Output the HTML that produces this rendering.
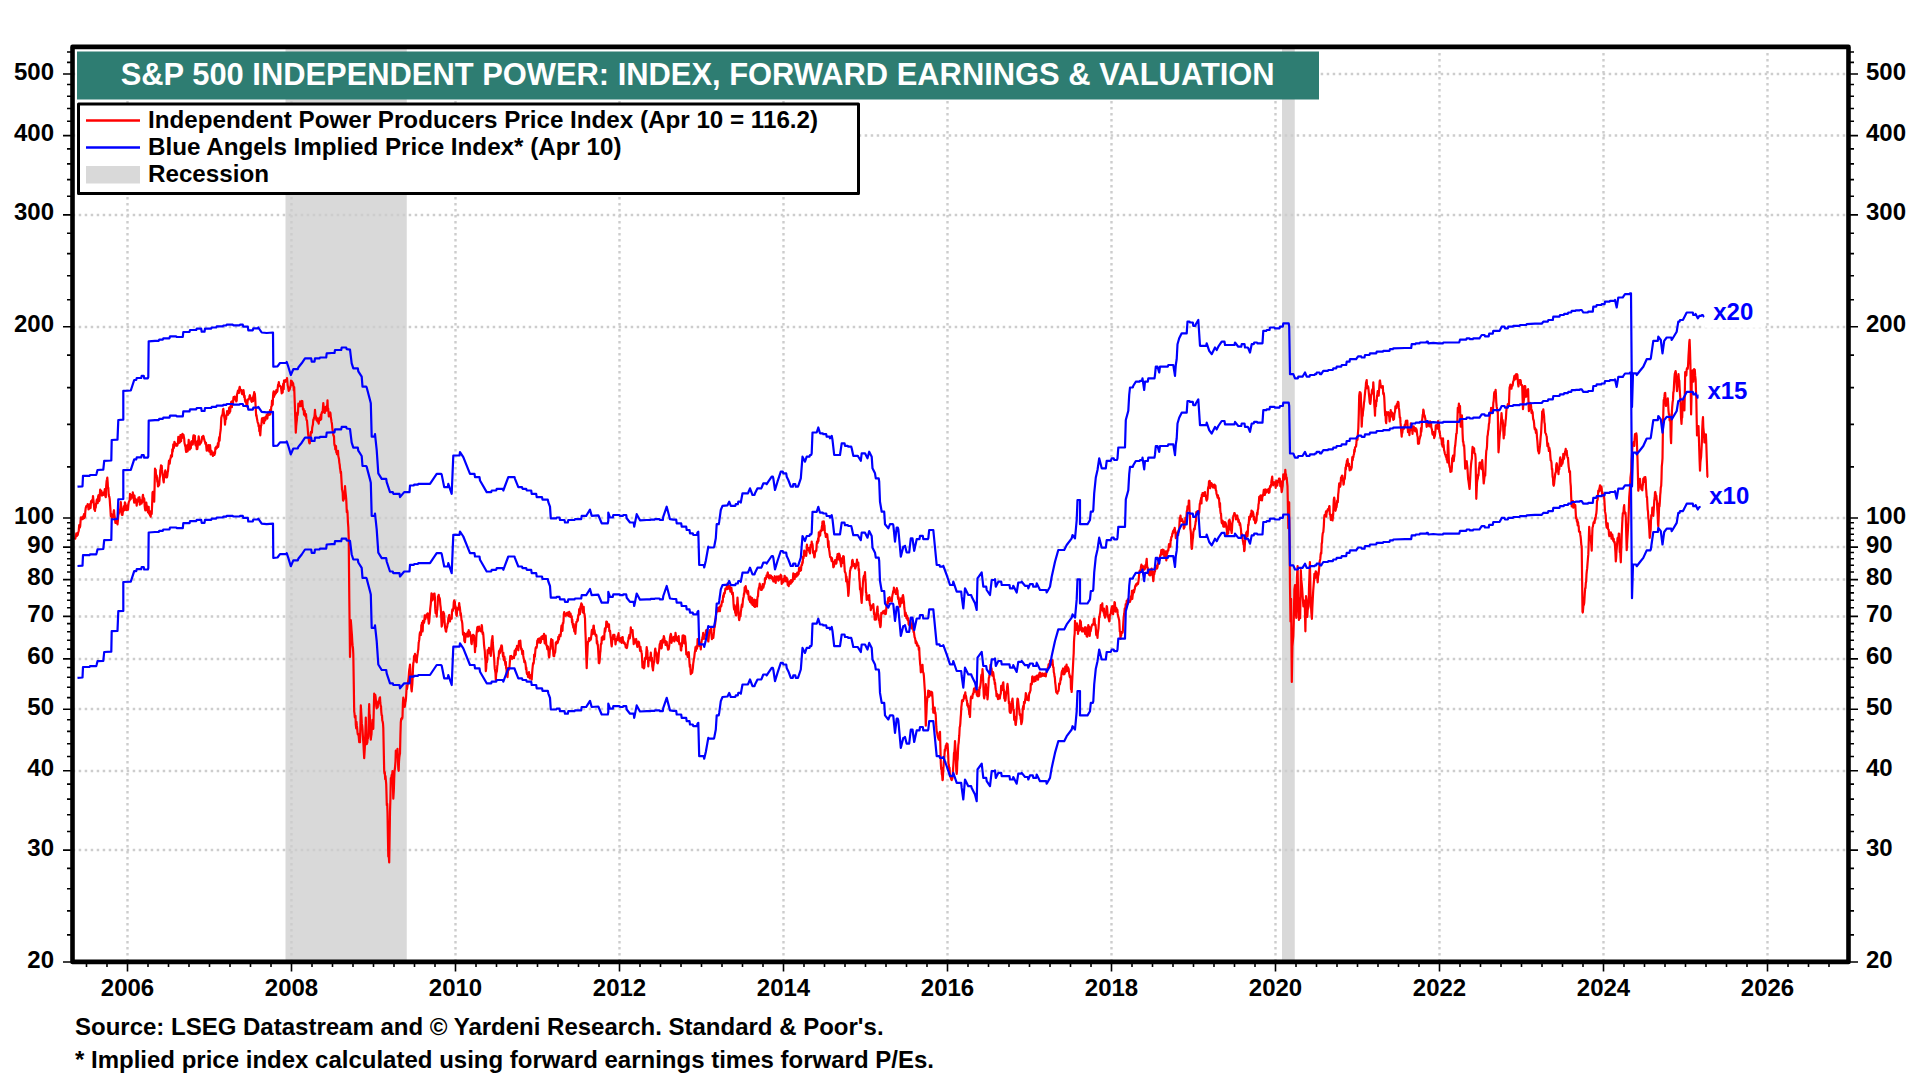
<!DOCTYPE html><html><head><meta charset="utf-8"><style>html,body{margin:0;padding:0;background:#fff;}svg{display:block;}text{font-family:"Liberation Sans",sans-serif;font-weight:bold;}</style></head><body>
<svg width="1920" height="1080" viewBox="0 0 1920 1080">
<rect x="285.5" y="46.9" width="121.25" height="915.0" fill="#d9d9d9"/>
<rect x="1282" y="46.9" width="12.75" height="915.0" fill="#d9d9d9"/>
<path d="M72.7 850.0H1846.5 M72.7 771.0H1846.5 M72.7 709.0H1846.5 M72.7 659.0H1846.5 M72.7 616.5H1846.5 M72.7 579.5H1846.5 M72.7 547.0H1846.5 M72.7 518.0H1846.5 M72.7 327.0H1846.5 M72.7 215.0H1846.5 M72.7 135.5H1846.5 M72.7 74.0H1846.5 M127.5 53V959.9 M291.5 53V959.9 M455.5 53V959.9 M619.5 53V959.9 M783.5 53V959.9 M947.5 53V959.9 M1111.5 53V959.9 M1275.5 53V959.9 M1439.5 53V959.9 M1603.5 53V959.9 M1767.5 53V959.9" stroke="#cdcdcd" stroke-width="2.4" stroke-dasharray="2.5 3.5" fill="none"/>
<path d="M75.0,537.8 75.3,538.6 75.7,536.8 76.0,535.6 76.3,533.4 76.7,533.7 77.0,536.0 77.4,534.7 77.7,535.0 78.1,532.7 78.5,531.6 78.8,530.2 79.2,525.0 79.5,527.9 79.9,527.3 80.2,526.3 80.6,520.4 81.0,517.4 81.3,517.5 81.7,517.7 82.0,519.2 82.3,518.5 82.7,519.1 83.0,516.3 83.3,517.0 83.7,517.0 84.0,514.2 84.3,518.1 84.7,516.4 85.0,516.8 85.3,511.5 85.7,508.3 86.0,507.0 86.3,506.0 86.7,506.1 87.0,506.4 87.4,505.3 87.7,504.1 88.1,504.9 88.5,509.4 88.8,506.8 89.2,508.5 89.5,508.6 89.9,504.0 90.2,505.3 90.6,508.0 91.0,501.2 91.3,502.1 91.7,502.4 92.0,500.2 92.3,501.7 92.7,500.3 93.0,496.1 93.3,499.0 93.7,502.4 94.0,505.7 94.3,509.4 94.7,509.9 95.0,511.0 95.3,506.2 95.7,507.8 96.0,504.8 96.3,503.3 96.7,500.1 97.0,499.3 97.4,499.6 97.7,503.2 98.1,496.7 98.5,495.2 98.8,498.0 99.2,501.1 99.5,499.9 99.9,493.5 100.2,489.5 100.6,493.9 101.0,492.6 101.3,490.8 101.7,494.4 102.0,495.6 102.4,493.7 102.7,492.9 103.1,492.7 103.5,494.9 103.8,493.2 104.2,492.1 104.5,492.9 104.8,489.2 105.2,494.9 105.5,496.7 105.8,497.1 106.2,485.8 106.6,481.2 107.0,479.3 107.3,477.6 107.7,482.5 108.0,488.7 108.3,487.7 108.7,494.8 109.0,496.3 109.3,496.7 109.7,499.2 110.1,505.1 110.4,509.2 110.8,516.2 111.2,513.9 111.5,514.3 111.8,518.2 112.2,518.1 112.5,516.7 112.9,517.3 113.3,517.1 113.7,511.2 114.0,510.2 114.3,514.1 114.7,516.9 115.0,519.1 115.4,523.0 115.7,519.2 116.1,523.0 116.4,519.0 116.8,518.8 117.1,522.0 117.5,524.3 117.9,520.3 118.3,515.1 118.7,513.6 119.0,512.7 119.3,512.8 119.7,510.8 120.0,510.7 120.4,507.3 120.8,502.2 121.2,506.2 121.5,508.9 121.8,514.8 122.2,514.8 122.5,514.9 122.8,512.2 123.2,510.7 123.5,510.9 123.8,506.9 124.2,505.8 124.5,510.0 124.9,502.3 125.2,503.2 125.6,507.0 126.0,509.2 126.3,510.0 126.7,509.3 127.0,509.9 127.3,508.4 127.7,505.2 128.0,509.7 128.3,505.9 128.7,502.3 129.0,501.7 129.3,500.7 129.7,500.3 130.0,493.9 130.4,495.8 130.7,499.2 131.1,495.0 131.4,495.3 131.8,497.0 132.1,496.8 132.5,497.5 132.8,492.4 133.2,494.4 133.5,496.0 133.8,499.6 134.2,502.7 134.5,495.5 134.9,501.6 135.2,498.5 135.6,502.4 136.0,499.3 136.3,502.2 136.7,505.7 137.0,502.6 137.4,501.5 137.7,501.7 138.1,499.6 138.5,497.5 138.8,499.6 139.2,498.5 139.5,497.2 139.8,504.6 140.2,499.7 140.5,503.6 140.8,503.4 141.2,502.9 141.5,503.6 141.9,502.3 142.3,502.3 142.6,497.0 143.0,494.8 143.3,498.2 143.7,497.8 144.0,498.6 144.3,499.0 144.7,506.3 145.0,508.8 145.3,510.3 145.7,505.3 146.0,505.4 146.3,502.7 146.7,505.8 147.0,509.8 147.3,506.4 147.7,511.2 148.0,512.3 148.3,510.8 148.7,506.9 149.0,513.7 149.3,513.4 149.7,512.8 150.0,515.5 150.3,515.1 150.7,516.7 151.0,511.0 151.3,513.2 151.7,514.0 152.1,505.4 152.5,492.9 152.8,491.8 153.2,496.2 153.5,496.6 153.8,497.6 154.2,501.7 154.6,486.4 155.0,468.5 155.3,471.5 155.7,469.7 156.0,475.4 156.3,476.7 156.7,475.6 157.0,477.9 157.3,481.7 157.7,482.4 158.0,486.5 158.3,486.0 158.7,485.6 159.0,485.2 159.3,484.0 159.7,477.3 160.0,477.0 160.3,470.3 160.7,468.8 161.0,465.4 161.3,470.1 161.7,465.8 162.0,469.7 162.3,472.3 162.7,475.0 163.0,476.3 163.3,480.0 163.7,482.3 164.0,478.1 164.3,476.7 164.7,476.1 165.0,472.2 165.3,470.4 165.7,472.2 166.0,477.3 166.3,473.9 166.7,475.9 167.0,477.4 167.3,475.9 167.7,472.1 168.0,471.1 168.3,467.7 168.7,463.5 169.0,460.5 169.3,460.8 169.7,463.7 170.0,460.8 170.3,458.7 170.7,457.8 171.0,455.4 171.3,457.3 171.7,455.1 172.0,456.2 172.3,449.4 172.7,451.7 173.0,449.2 173.3,444.3 173.7,448.3 174.0,447.1 174.4,441.9 174.8,442.6 175.1,444.9 175.5,443.6 175.8,445.4 176.2,445.8 176.5,445.4 176.9,444.2 177.2,445.7 177.6,444.4 177.9,443.2 178.3,436.9 178.6,440.9 179.0,442.9 179.3,439.7 179.7,437.9 180.0,442.3 180.4,435.0 180.7,436.8 181.1,441.2 181.4,434.8 181.8,435.6 182.1,438.0 182.5,433.9 182.8,435.4 183.2,437.4 183.5,434.9 183.8,436.6 184.2,438.8 184.5,443.0 184.8,444.3 185.2,446.1 185.5,446.7 185.8,450.1 186.2,452.0 186.5,450.2 186.9,446.8 187.3,445.0 187.6,451.3 188.0,449.5 188.3,447.1 188.7,439.8 189.0,444.6 189.4,446.2 189.8,449.6 190.1,448.3 190.5,447.0 190.8,448.1 191.2,441.7 191.5,445.3 191.8,444.2 192.2,440.8 192.5,443.3 192.8,444.5 193.2,437.1 193.5,435.4 193.8,436.1 194.2,435.4 194.5,435.9 194.9,435.9 195.2,443.8 195.6,445.3 196.0,442.0 196.3,441.6 196.7,449.2 197.0,448.4 197.3,449.1 197.7,446.2 198.0,440.7 198.3,440.3 198.7,436.4 199.0,438.7 199.3,441.7 199.7,444.7 200.0,443.6 200.4,442.9 200.7,443.1 201.1,442.2 201.4,441.5 201.8,439.5 202.1,436.8 202.5,437.5 202.9,437.3 203.2,435.9 203.6,436.4 203.9,438.5 204.3,439.5 204.6,441.0 205.0,441.7 205.3,443.4 205.7,444.2 206.0,442.8 206.3,446.9 206.7,450.6 207.0,450.4 207.3,449.2 207.7,450.4 208.0,447.9 208.3,445.2 208.7,448.8 209.0,448.1 209.3,451.7 209.7,449.2 210.0,445.1 210.3,447.6 210.7,454.5 211.0,453.0 211.3,450.6 211.7,451.4 212.0,453.9 212.3,454.5 212.7,453.7 213.0,456.0 213.3,454.9 213.7,452.6 214.0,452.9 214.3,455.0 214.7,454.0 215.0,453.5 215.4,448.0 215.7,447.6 216.1,448.9 216.4,446.5 216.8,448.1 217.1,447.1 217.5,446.9 217.9,443.1 218.2,446.8 218.6,444.3 218.9,439.2 219.3,437.0 219.6,440.8 220.0,434.7 220.3,432.4 220.7,429.7 221.0,424.4 221.3,417.8 221.7,416.3 222.0,415.3 222.3,415.4 222.7,413.3 223.0,409.7 223.3,408.9 223.7,412.0 224.0,414.5 224.3,417.2 224.7,419.6 225.0,424.7 225.4,420.3 225.7,418.9 226.1,419.1 226.4,415.1 226.8,415.2 227.1,411.0 227.5,411.7 227.8,414.3 228.2,414.6 228.5,412.8 228.8,411.3 229.2,407.6 229.5,412.9 229.8,411.3 230.2,411.5 230.5,406.7 230.8,406.0 231.2,401.9 231.5,405.8 231.9,407.1 232.2,401.0 232.6,402.6 232.9,404.3 233.3,399.2 233.6,397.0 234.0,397.5 234.3,398.3 234.7,396.5 235.0,398.6 235.3,399.4 235.7,400.1 236.0,400.0 236.3,401.4 236.7,400.6 237.0,394.5 237.3,393.7 237.7,391.8 238.0,390.6 238.3,392.0 238.7,392.2 239.0,392.9 239.3,388.2 239.7,386.8 240.0,388.6 240.4,389.6 240.7,389.9 241.1,390.9 241.4,390.1 241.8,393.3 242.1,394.0 242.5,393.5 242.8,393.0 243.2,394.5 243.5,390.2 243.9,393.1 244.2,397.1 244.6,395.8 244.9,399.7 245.3,401.7 245.6,399.7 246.0,402.1 246.3,403.5 246.7,406.4 247.0,406.1 247.4,403.7 247.7,400.2 248.1,399.7 248.5,398.8 248.8,399.4 249.2,397.8 249.5,396.4 249.9,395.2 250.2,397.5 250.6,398.1 251.0,398.2 251.3,401.0 251.7,401.8 252.0,401.2 252.4,400.8 252.7,397.4 253.1,401.1 253.5,395.4 253.8,395.4 254.2,392.1 254.5,397.2 254.8,393.6 255.2,398.2 255.5,404.3 255.8,409.5 256.2,416.0 256.5,415.1 256.9,418.3 257.2,419.7 257.6,421.9 257.9,423.1 258.3,423.3 258.6,426.3 259.0,425.2 259.3,431.1 259.7,429.7 260.0,433.3 260.3,435.3 260.7,429.1 261.0,425.8 261.3,425.4 261.7,421.0 262.0,418.4 262.3,419.6 262.7,420.6 263.0,421.1 263.3,417.9 263.7,422.2 264.0,423.3 264.3,420.0 264.7,419.2 265.0,417.3 265.3,420.5 265.7,416.8 266.0,418.4 266.3,416.3 266.7,414.9 267.0,417.0 267.3,418.6 267.7,415.8 268.0,412.9 268.3,414.7 268.7,413.0 269.0,412.8 269.3,415.0 269.7,414.4 270.0,410.2 270.3,414.4 270.7,410.5 271.0,410.4 271.3,406.7 271.7,406.4 272.0,400.7 272.3,405.2 272.7,404.6 273.0,397.4 273.3,392.9 273.7,391.4 274.0,396.9 274.3,395.0 274.7,395.0 275.0,394.2 275.3,394.1 275.7,391.7 276.0,393.1 276.3,390.2 276.7,392.0 277.0,391.9 277.4,391.1 277.7,388.2 278.1,384.6 278.5,384.6 278.8,382.1 279.2,384.7 279.5,386.1 279.9,385.7 280.2,385.9 280.6,386.5 281.0,387.3 281.3,389.9 281.7,393.4 282.0,392.5 282.3,391.0 282.7,392.5 283.0,385.6 283.3,383.5 283.7,389.1 284.0,380.6 284.3,380.3 284.7,381.4 285.0,381.5 285.3,381.8 285.7,380.2 286.0,380.7 286.3,380.0 286.7,381.0 287.0,378.1 287.3,381.0 287.7,385.5 288.0,386.5 288.3,388.4 288.7,390.9 289.0,388.3 289.3,389.6 289.7,389.6 290.0,388.0 290.3,387.3 290.7,385.0 291.0,380.7 291.3,381.6 291.7,382.3 292.0,381.4 292.4,382.5 292.7,385.3 293.1,383.1 293.5,386.1 293.8,390.4 294.2,387.0 294.5,395.8 294.8,403.8 295.2,416.0 295.5,423.2 295.8,432.6 296.2,426.1 296.5,423.1 296.9,419.9 297.3,412.7 297.6,415.1 298.0,412.6 298.3,403.7 298.7,406.8 299.0,405.6 299.4,406.2 299.8,405.9 300.1,401.4 300.5,402.3 300.8,406.1 301.2,403.5 301.5,401.9 301.9,400.9 302.3,401.2 302.6,405.0 303.0,409.7 303.3,408.8 303.7,409.3 304.0,414.7 304.3,411.4 304.7,410.8 305.0,414.1 305.3,416.1 305.7,414.3 306.0,414.2 306.3,418.2 306.7,420.4 307.0,420.6 307.4,425.3 307.7,428.3 308.1,433.8 308.5,436.6 308.8,439.8 309.2,442.5 309.5,443.4 309.8,443.1 310.2,437.8 310.5,437.4 310.8,432.4 311.2,431.6 311.5,431.9 311.9,432.6 312.2,427.7 312.6,425.7 312.9,424.6 313.3,419.5 313.6,420.0 314.0,417.7 314.3,418.2 314.7,414.1 315.0,409.8 315.3,414.1 315.7,416.6 316.0,416.3 316.3,419.9 316.7,419.1 317.0,418.6 317.3,421.4 317.7,418.4 318.0,419.9 318.3,422.4 318.7,423.7 319.0,421.1 319.4,420.5 319.8,417.4 320.1,417.6 320.5,419.9 320.8,414.8 321.2,419.2 321.5,413.5 321.9,412.3 322.3,411.6 322.6,412.6 323.0,407.4 323.3,403.1 323.7,407.3 324.0,409.0 324.4,408.8 324.8,412.9 325.1,408.7 325.5,407.0 325.8,407.6 326.2,407.4 326.5,410.6 326.8,405.8 327.2,406.4 327.5,400.3 327.8,408.0 328.2,408.5 328.5,412.0 328.8,416.3 329.2,413.5 329.5,412.8 329.8,412.6 330.2,412.4 330.5,413.5 330.8,417.3 331.2,419.4 331.5,421.7 331.9,423.5 332.3,428.1 332.6,430.3 333.0,431.3 333.3,434.9 333.7,436.2 334.0,436.2 334.3,443.7 334.7,445.8 335.0,445.2 335.3,449.4 335.7,449.7 336.0,446.2 336.3,452.5 336.7,452.4 337.0,454.2 337.3,453.8 337.7,453.5 338.0,450.8 338.3,456.0 338.7,457.7 339.0,459.2 339.3,462.6 339.7,464.7 340.0,468.3 340.3,469.8 340.7,473.2 341.0,471.9 341.3,477.4 341.7,483.9 342.0,489.8 342.3,490.3 342.7,493.2 343.0,500.1 343.3,500.5 343.7,499.1 344.0,499.0 344.3,493.6 344.7,492.6 345.0,486.2 345.4,491.1 345.8,494.9 346.2,498.9 346.5,504.9 346.8,512.2 347.2,510.4 347.5,512.3 347.9,521.8 348.3,526.8 348.7,537.0 349.0,568.9 349.3,598.2 349.7,630.3 350.0,657.0 350.4,642.3 350.8,620.2 351.2,625.0 351.5,629.8 351.9,634.6 352.3,641.8 352.6,645.4 353.0,648.4 353.3,654.3 353.8,685.5 354.2,711.3 354.5,713.3 354.8,717.2 355.2,717.7 355.5,715.8 355.8,724.7 356.2,728.5 356.5,721.9 356.8,725.2 357.2,728.6 357.5,732.3 357.8,734.3 358.2,734.2 358.5,733.8 358.8,737.4 359.2,742.1 359.6,740.8 360.0,742.2 360.4,726.5 360.8,705.4 361.2,712.1 361.5,716.9 361.8,723.4 362.2,725.9 362.5,729.2 362.8,734.9 363.2,741.0 363.5,745.0 363.8,751.1 364.2,758.1 364.5,753.1 364.8,748.2 365.2,736.6 365.5,729.1 365.8,717.5 366.2,736.3 366.7,744.2 367.0,743.0 367.3,742.7 367.7,737.4 368.0,738.4 368.3,736.6 368.8,716.8 369.2,704.2 369.5,714.0 369.8,715.1 370.2,725.6 370.5,732.3 370.8,739.6 371.2,736.1 371.5,734.4 371.8,728.0 372.2,725.8 372.5,719.9 372.9,726.6 373.3,728.8 373.8,709.3 374.2,693.6 374.5,694.6 374.9,695.2 375.2,694.8 375.6,697.0 376.0,701.4 376.3,706.2 376.7,708.3 377.0,707.5 377.3,705.5 377.7,707.3 378.0,703.6 378.3,701.4 378.7,703.2 379.0,701.5 379.3,699.6 379.7,697.8 380.0,697.3 380.3,702.7 380.7,706.1 381.0,706.1 381.3,711.8 381.7,715.4 382.0,715.3 382.3,720.7 382.7,721.7 383.0,723.5 383.3,728.1 383.8,752.6 384.2,771.3 384.5,773.5 384.8,772.0 385.2,779.2 385.5,776.2 385.8,779.5 386.2,783.9 386.5,793.6 386.8,805.1 387.2,803.7 387.5,812.8 387.9,836.1 388.3,856.6 388.8,856.0 389.2,862.5 389.6,838.3 390.0,812.0 390.4,799.1 390.8,778.2 391.2,780.6 391.5,776.2 391.8,774.7 392.2,775.1 392.5,771.2 392.9,784.0 393.3,798.7 393.8,791.0 394.2,778.6 394.5,771.2 394.8,769.5 395.2,765.3 395.5,761.3 395.8,750.7 396.2,752.5 396.5,755.6 396.8,756.0 397.2,756.3 397.5,748.9 397.9,759.6 398.3,769.0 398.7,770.8 399.0,761.6 399.3,757.6 399.7,754.8 400.0,753.6 400.4,735.5 400.8,722.4 401.2,718.8 401.5,719.6 401.8,717.9 402.2,718.6 402.5,716.8 402.9,703.5 403.3,697.7 403.7,699.7 404.0,699.8 404.3,702.8 404.7,706.9 405.0,705.3 405.3,702.6 405.7,700.9 406.0,698.2 406.3,693.1 406.7,685.3 407.0,689.1 407.3,687.1 407.7,684.4 408.0,681.5 408.3,680.4 408.7,676.5 409.0,672.1 409.3,669.5 409.7,667.1 410.0,664.6 410.3,668.7 410.7,677.6 411.0,679.9 411.3,688.5 411.7,691.3 412.0,687.4 412.3,684.4 412.7,676.8 413.0,668.3 413.3,663.1 413.7,661.9 414.0,656.3 414.3,655.7 414.7,656.1 415.0,653.8 415.3,655.7 415.7,658.5 416.0,660.2 416.3,661.8 416.7,662.3 417.0,658.2 417.3,656.0 417.7,653.4 418.0,651.1 418.3,649.3 418.7,642.6 419.0,641.2 419.3,639.2 419.7,634.2 420.0,632.4 420.3,633.2 420.7,631.3 421.0,634.9 421.3,625.2 421.7,626.4 422.0,622.7 422.3,626.9 422.7,631.4 423.0,620.9 423.3,622.4 423.7,623.3 424.0,621.3 424.3,621.9 424.7,615.4 425.0,619.4 425.3,619.2 425.7,617.9 426.0,615.5 426.3,616.8 426.7,614.3 427.0,616.4 427.4,616.3 427.7,613.3 428.1,617.8 428.5,620.7 428.8,623.7 429.2,622.0 429.5,617.8 429.8,614.5 430.2,609.1 430.5,606.3 430.8,603.8 431.2,597.9 431.5,593.4 431.8,597.7 432.2,600.5 432.5,599.9 432.8,599.3 433.2,595.7 433.5,594.0 433.8,596.7 434.2,593.5 434.5,593.6 434.9,597.4 435.2,608.4 435.6,613.1 436.0,611.0 436.3,612.1 436.7,616.7 437.0,610.5 437.3,610.0 437.7,603.8 438.0,596.5 438.3,596.3 438.7,594.8 439.0,596.8 439.3,597.7 439.7,598.2 440.0,600.5 440.3,604.6 440.7,607.5 441.0,611.6 441.3,619.0 441.7,626.6 442.0,625.4 442.3,623.0 442.7,621.1 443.0,617.3 443.3,611.8 443.7,613.9 444.0,613.2 444.4,618.9 444.8,624.1 445.1,627.7 445.5,629.2 445.8,631.3 446.2,631.7 446.5,628.6 446.9,627.8 447.3,626.0 447.6,623.3 448.0,623.5 448.3,618.2 448.7,617.2 449.0,615.6 449.3,614.9 449.7,619.6 450.0,621.4 450.3,618.1 450.7,617.9 451.0,618.9 451.3,618.2 451.7,618.7 452.0,611.6 452.4,609.3 452.7,609.6 453.1,610.7 453.5,606.8 453.8,602.2 454.2,600.4 454.5,601.2 454.9,602.0 455.2,608.4 455.6,606.8 456.0,608.7 456.3,614.9 456.7,615.9 457.0,612.5 457.4,608.2 457.7,608.1 458.1,609.8 458.5,607.2 458.8,606.8 459.2,603.2 459.5,606.0 459.8,607.1 460.2,610.7 460.5,615.5 460.8,613.0 461.2,616.5 461.5,620.0 461.9,621.0 462.3,623.4 462.6,628.3 463.0,634.2 463.3,634.8 463.7,635.5 464.0,632.9 464.3,640.9 464.7,641.0 465.0,642.1 465.3,637.7 465.7,637.4 466.0,633.9 466.3,634.2 466.7,634.1 467.0,633.8 467.3,634.4 467.7,632.2 468.0,636.6 468.3,633.6 468.7,630.1 469.0,632.6 469.3,632.3 469.7,631.8 470.0,633.2 470.3,636.3 470.7,635.1 471.0,637.8 471.3,643.0 471.7,644.1 472.0,640.5 472.3,638.8 472.7,636.6 473.0,634.9 473.3,634.9 473.7,637.3 474.0,635.5 474.3,642.5 474.7,645.4 475.0,652.2 475.3,647.2 475.7,644.9 476.0,646.4 476.3,637.7 476.7,632.3 477.0,630.5 477.3,627.3 477.7,627.0 478.0,631.5 478.3,630.6 478.7,627.2 479.0,626.6 479.3,630.6 479.7,628.7 480.0,628.6 480.3,628.9 480.7,630.4 481.0,631.3 481.3,628.8 481.7,625.1 482.0,626.4 482.3,631.7 482.7,634.0 483.0,632.3 483.3,634.7 483.7,639.7 484.0,644.3 484.4,648.1 484.8,651.0 485.1,657.2 485.5,660.6 485.8,671.2 486.2,668.3 486.5,661.2 486.9,662.3 487.3,659.4 487.6,650.1 488.0,652.9 488.3,649.5 488.7,653.1 489.0,647.8 489.4,650.4 489.8,651.7 490.1,652.3 490.5,653.1 490.8,655.9 491.2,647.9 491.5,643.8 491.8,640.0 492.2,638.6 492.5,636.0 492.8,642.7 493.2,647.6 493.5,651.6 493.8,654.3 494.2,658.5 494.5,664.9 494.8,668.9 495.2,671.0 495.5,673.0 495.8,680.0 496.2,673.7 496.5,672.3 496.9,671.1 497.3,665.7 497.6,664.4 498.0,657.8 498.3,658.3 498.7,656.5 499.0,651.2 499.3,653.5 499.7,650.2 500.0,653.0 500.3,648.9 500.7,647.9 501.0,647.7 501.3,645.6 501.7,645.4 502.0,646.6 502.3,651.4 502.7,653.4 503.0,656.3 503.3,652.5 503.7,659.6 504.0,660.0 504.4,656.6 504.8,660.1 505.1,662.5 505.5,665.2 505.8,661.9 506.2,668.6 506.5,668.7 506.8,675.8 507.2,674.3 507.5,677.1 507.9,672.8 508.2,668.2 508.6,670.1 508.9,669.0 509.3,668.6 509.6,665.5 510.0,659.9 510.3,656.0 510.7,656.6 511.0,656.6 511.3,656.0 511.7,658.7 512.0,658.8 512.3,657.4 512.7,657.6 513.0,656.8 513.3,657.1 513.7,657.8 514.0,658.1 514.3,654.1 514.7,650.5 515.0,655.2 515.3,653.6 515.7,654.8 516.0,648.7 516.3,649.0 516.7,649.5 517.0,645.8 517.3,646.0 517.7,648.3 518.0,649.3 518.3,650.3 518.7,644.7 519.0,641.0 519.3,643.4 519.7,644.6 520.0,642.8 520.3,640.7 520.7,645.5 521.0,648.2 521.3,649.6 521.7,648.8 522.0,651.2 522.3,654.1 522.7,653.1 523.0,650.9 523.3,655.9 523.7,658.6 524.0,659.2 524.3,662.1 524.7,660.5 525.0,661.8 525.3,662.5 525.7,665.4 526.0,669.4 526.3,667.5 526.7,672.6 527.0,673.9 527.3,673.5 527.7,673.6 528.0,677.0 528.3,674.6 528.7,674.0 529.0,672.1 529.3,675.1 529.7,678.4 530.0,678.1 530.3,678.0 530.7,677.0 531.0,677.8 531.3,674.8 531.7,679.6 532.0,674.8 532.4,669.6 532.7,666.5 533.1,663.2 533.5,663.8 533.8,662.4 534.2,654.6 534.5,656.7 534.9,656.6 535.2,652.5 535.6,648.2 535.9,647.6 536.2,646.8 536.6,647.8 536.9,645.9 537.3,640.7 537.6,643.0 538.0,639.1 538.3,642.3 538.7,639.0 539.0,638.9 539.3,638.3 539.7,638.6 540.0,642.7 540.3,642.9 540.7,642.3 541.0,641.4 541.3,636.8 541.7,637.3 542.0,637.3 542.3,636.2 542.7,638.9 543.0,637.0 543.3,636.2 543.7,635.9 544.0,633.9 544.3,639.4 544.7,643.3 545.0,642.4 545.3,640.0 545.7,635.7 546.0,640.9 546.3,645.3 546.7,645.2 547.0,647.0 547.3,649.1 547.7,649.5 548.0,646.5 548.3,649.1 548.8,655.9 549.2,657.5 549.5,655.2 549.8,650.3 550.2,649.4 550.5,648.7 550.8,642.9 551.2,639.1 551.5,644.7 551.8,644.2 552.2,646.0 552.5,640.0 552.8,646.1 553.2,652.2 553.5,655.9 553.8,654.1 554.2,656.2 554.5,653.1 554.8,653.2 555.2,652.1 555.5,648.3 555.8,642.5 556.2,644.5 556.5,641.8 556.9,642.5 557.3,641.2 557.6,643.0 558.0,641.7 558.3,637.0 558.7,636.8 559.0,639.4 559.4,634.8 559.8,634.9 560.1,636.1 560.5,636.2 560.8,634.1 561.2,628.3 561.5,625.5 561.8,627.0 562.2,626.9 562.5,630.8 562.8,623.1 563.2,623.6 563.5,621.6 563.8,614.2 564.2,612.2 564.5,614.4 564.9,613.7 565.2,614.2 565.6,615.8 566.0,613.5 566.3,615.5 566.7,613.8 567.0,612.9 567.4,614.7 567.7,612.5 568.1,613.4 568.5,616.2 568.8,613.5 569.2,611.8 569.5,614.3 569.9,613.4 570.2,616.8 570.6,613.5 571.0,617.1 571.3,616.5 571.7,616.3 572.0,622.5 572.3,619.6 572.7,624.9 573.0,625.0 573.3,627.5 573.7,624.0 574.0,628.4 574.3,631.4 574.7,629.8 575.0,630.1 575.4,633.8 575.7,629.0 576.1,624.9 576.4,621.9 576.8,622.1 577.1,620.9 577.5,619.0 577.8,620.7 578.2,615.7 578.5,614.6 578.8,615.3 579.2,609.1 579.5,611.7 579.9,614.2 580.2,608.0 580.6,606.2 581.0,605.5 581.3,603.4 581.7,607.5 582.0,604.3 582.3,608.6 582.7,612.4 583.0,607.2 583.3,608.4 583.7,606.9 584.0,613.4 584.3,613.4 584.7,615.5 585.0,618.1 585.3,629.4 585.7,638.0 586.0,648.2 586.3,657.1 586.7,668.2 587.0,659.7 587.3,655.5 587.7,645.8 588.0,641.7 588.3,641.6 588.7,640.7 589.0,638.0 589.3,641.1 589.7,640.1 590.0,638.9 590.3,638.2 590.7,639.8 591.0,638.4 591.3,635.5 591.7,631.3 592.0,629.8 592.4,634.3 592.7,633.1 593.1,629.8 593.5,625.7 593.8,625.6 594.2,633.7 594.5,630.1 594.8,632.1 595.2,634.3 595.5,635.1 595.8,636.0 596.2,634.7 596.5,635.9 596.8,643.2 597.2,641.2 597.5,644.9 597.8,644.5 598.2,650.3 598.5,656.3 598.8,662.9 599.2,663.3 599.5,662.1 599.8,658.8 600.2,652.8 600.5,651.0 600.8,644.9 601.2,643.3 601.5,643.8 601.8,637.4 602.2,640.2 602.5,638.6 602.8,636.4 603.2,637.2 603.5,639.5 603.8,637.1 604.2,639.2 604.5,632.6 604.9,628.4 605.2,631.7 605.6,628.8 606.0,627.4 606.3,621.5 606.7,621.5 607.0,622.1 607.3,623.8 607.7,623.7 608.0,626.9 608.3,624.6 608.7,624.4 609.0,624.3 609.3,631.1 609.7,630.4 610.0,630.6 610.3,633.3 610.7,637.3 611.0,638.8 611.3,643.5 611.7,646.3 612.0,643.7 612.3,640.2 612.7,639.4 613.0,636.3 613.3,634.8 613.7,636.9 614.0,638.8 614.4,634.8 614.8,638.0 615.1,639.4 615.5,644.3 615.8,641.8 616.2,640.6 616.5,640.1 616.8,638.7 617.2,640.1 617.5,636.3 617.9,639.1 618.2,635.1 618.6,633.2 618.9,639.5 619.3,640.3 619.6,641.1 620.0,640.8 620.3,641.5 620.7,638.1 621.0,641.8 621.3,640.0 621.7,642.8 622.0,641.9 622.3,637.1 622.7,637.1 623.0,642.5 623.3,641.7 623.7,641.5 624.0,643.2 624.3,642.8 624.7,642.8 625.0,644.7 625.3,644.7 625.7,647.4 626.0,644.8 626.3,647.6 626.7,648.1 627.0,647.7 627.3,645.8 627.7,642.8 628.0,641.4 628.3,640.0 628.7,637.2 629.0,636.9 629.4,634.8 629.8,638.3 630.1,636.3 630.5,632.7 630.8,627.4 631.2,631.0 631.5,632.1 631.9,631.6 632.3,632.0 632.6,630.2 633.0,636.5 633.3,637.9 633.7,644.1 634.0,640.7 634.4,639.4 634.8,642.6 635.1,641.0 635.5,640.6 635.8,639.5 636.2,639.0 636.5,643.7 636.9,644.6 637.3,646.8 637.6,643.3 638.0,643.3 638.3,641.5 638.7,645.5 639.0,642.2 639.4,645.8 639.8,648.7 640.1,650.9 640.5,646.9 640.8,650.5 641.2,650.5 641.5,652.4 641.8,653.7 642.2,661.6 642.5,667.4 642.9,663.5 643.2,661.7 643.6,662.0 643.9,668.4 644.3,667.3 644.6,663.5 645.0,659.5 645.3,657.5 645.7,659.0 646.0,659.0 646.3,652.4 646.7,647.2 647.0,650.1 647.3,650.3 647.7,658.7 648.0,659.4 648.3,666.5 648.7,660.4 649.0,658.2 649.4,660.0 649.8,657.3 650.1,658.9 650.5,656.8 650.8,652.5 651.2,657.7 651.5,661.3 651.9,657.9 652.3,666.4 652.6,667.8 653.0,670.3 653.3,666.7 653.7,663.9 654.0,661.6 654.3,661.8 654.7,654.1 655.0,650.5 655.3,648.5 655.7,652.2 656.0,655.2 656.3,652.3 656.7,654.1 657.0,658.2 657.3,662.9 657.7,663.4 658.0,662.3 658.3,660.8 658.7,655.7 659.0,651.5 659.3,648.8 659.7,644.4 660.0,643.6 660.3,643.2 660.7,641.0 661.0,646.8 661.3,648.4 661.7,648.0 662.0,644.3 662.4,639.8 662.7,639.3 663.1,642.6 663.5,639.2 663.8,636.1 664.2,637.6 664.5,639.3 664.9,641.2 665.2,642.4 665.6,645.0 666.0,641.4 666.3,644.6 666.7,641.9 667.0,645.3 667.3,646.1 667.7,647.1 668.0,649.7 668.3,649.1 668.7,649.2 669.0,647.4 669.4,643.9 669.8,639.9 670.1,636.9 670.5,635.1 670.8,633.9 671.2,635.3 671.5,642.8 671.9,640.8 672.3,640.8 672.6,637.7 673.0,637.4 673.3,638.6 673.7,639.5 674.0,636.8 674.4,641.3 674.8,637.8 675.1,639.9 675.5,632.8 675.8,635.1 676.2,637.5 676.5,638.5 676.9,640.3 677.3,640.7 677.6,641.0 678.0,637.1 678.3,638.7 678.7,636.2 679.0,642.3 679.4,644.2 679.8,644.2 680.1,643.3 680.5,644.0 680.8,650.0 681.2,650.5 681.5,645.9 681.9,646.5 682.3,639.6 682.6,635.7 683.0,636.7 683.3,635.4 683.7,635.6 684.0,637.0 684.3,643.4 684.7,637.2 685.0,636.2 685.3,640.1 685.7,643.0 686.0,648.4 686.3,654.5 686.7,652.2 687.0,654.3 687.4,654.6 687.7,656.8 688.1,654.0 688.5,653.1 688.8,652.2 689.2,658.8 689.5,663.3 689.8,666.8 690.2,664.8 690.5,670.7 690.8,674.1 691.2,671.3 691.5,670.6 691.8,673.0 692.2,672.6 692.5,670.4 692.8,668.6 693.2,663.8 693.5,661.8 693.8,659.4 694.2,657.9 694.5,654.9 694.8,652.4 695.2,650.3 695.5,647.1 695.8,651.0 696.2,648.1 696.5,646.2 696.9,648.8 697.3,647.0 697.6,639.1 698.0,640.5 698.3,640.5 698.7,644.7 699.0,645.8 699.4,645.9 699.8,642.6 700.1,643.1 700.5,646.7 700.8,649.4 701.2,644.1 701.5,642.2 701.8,639.9 702.2,638.6 702.5,637.3 702.9,635.8 703.2,632.8 703.6,637.0 703.9,638.9 704.3,635.5 704.6,636.5 705.0,635.2 705.3,634.8 705.7,633.8 706.0,630.3 706.3,631.6 706.7,632.5 707.0,629.9 707.3,635.9 707.7,639.0 708.0,640.1 708.3,641.5 708.7,638.2 709.0,634.2 709.4,631.8 709.8,630.0 710.1,630.9 710.5,630.5 710.8,631.4 711.2,627.0 711.5,635.6 711.9,639.2 712.3,636.0 712.6,637.0 713.0,637.5 713.3,637.9 713.7,634.3 714.0,631.7 714.3,627.8 714.7,627.1 715.0,624.9 715.3,622.7 715.7,617.3 716.0,615.5 716.3,612.9 716.7,611.3 717.0,607.9 717.4,609.8 717.7,611.5 718.1,611.2 718.5,608.7 718.8,607.5 719.2,607.4 719.5,609.1 719.9,611.2 720.2,607.9 720.6,605.4 721.0,606.4 721.3,606.1 721.7,603.2 722.0,601.4 722.3,601.3 722.7,602.1 723.0,597.4 723.3,595.3 723.7,597.0 724.0,593.0 724.3,593.6 724.7,593.5 725.0,591.6 725.4,588.7 725.7,589.3 726.1,588.5 726.4,589.2 726.8,586.4 727.1,589.2 727.5,583.6 727.9,585.2 728.2,586.2 728.6,588.6 728.9,586.0 729.3,587.6 729.6,585.8 730.0,588.0 730.4,591.7 730.7,588.7 731.1,590.0 731.4,587.9 731.8,591.8 732.1,594.2 732.5,592.9 732.8,592.6 733.2,597.8 733.5,603.3 733.8,607.0 734.2,609.6 734.5,605.0 734.8,606.8 735.2,612.9 735.5,610.1 735.8,615.2 736.2,615.4 736.5,611.3 736.8,609.0 737.2,603.2 737.5,597.5 737.8,602.9 738.2,607.2 738.5,611.6 738.8,617.4 739.2,620.2 739.5,618.5 739.8,617.1 740.2,614.4 740.5,616.2 740.8,612.4 741.2,609.6 741.5,607.0 741.9,604.3 742.3,606.8 742.6,604.0 743.0,599.5 743.3,598.1 743.7,596.4 744.0,593.3 744.3,593.9 744.7,587.5 745.0,587.1 745.4,588.1 745.7,586.1 746.1,588.8 746.4,590.0 746.8,592.4 747.1,591.7 747.5,593.8 747.9,590.8 748.2,591.6 748.6,596.7 748.9,599.6 749.3,598.9 749.6,598.0 750.0,602.0 750.4,596.6 750.7,597.8 751.1,601.8 751.4,603.5 751.8,600.7 752.1,598.1 752.5,604.9 752.9,604.4 753.2,602.1 753.6,603.6 753.9,606.1 754.3,599.5 754.6,605.4 755.0,606.9 755.3,600.7 755.7,604.7 756.0,600.2 756.3,604.8 756.7,604.6 757.0,606.4 757.3,599.2 757.7,596.5 758.0,596.4 758.3,591.1 758.7,588.6 759.0,587.6 759.3,587.0 759.7,583.7 760.0,585.2 760.3,586.6 760.7,586.3 761.0,589.9 761.3,587.0 761.7,589.8 762.0,586.9 762.3,589.0 762.7,584.0 763.0,587.1 763.3,587.6 763.7,586.1 764.0,584.6 764.4,584.1 764.8,582.5 765.1,578.0 765.5,579.4 765.8,579.3 766.2,578.0 766.5,575.3 766.8,575.3 767.2,576.3 767.5,573.2 767.8,572.5 768.2,576.5 768.5,577.2 768.9,577.5 769.2,578.3 769.6,575.5 769.9,575.2 770.3,578.0 770.6,575.5 771.0,575.7 771.3,577.1 771.7,577.7 772.0,576.8 772.3,579.4 772.7,578.0 773.0,579.7 773.3,581.3 773.7,581.2 774.0,581.5 774.3,577.7 774.7,576.2 775.0,577.4 775.3,579.9 775.7,582.9 776.0,577.8 776.3,579.3 776.7,577.1 777.0,576.4 777.3,577.0 777.7,579.3 778.0,578.8 778.3,580.7 778.7,576.4 779.0,578.9 779.3,579.7 779.7,577.9 780.0,578.1 780.3,576.3 780.7,574.7 781.0,575.8 781.3,575.9 781.7,584.0 782.0,579.6 782.3,582.9 782.7,581.2 783.0,581.0 783.3,582.1 783.7,578.7 784.0,581.0 784.3,580.4 784.7,575.8 785.0,578.7 785.3,579.3 785.7,579.1 786.0,581.3 786.3,577.5 786.7,578.0 787.0,580.8 787.3,579.4 787.7,584.9 788.0,582.2 788.3,583.0 788.7,586.2 789.0,583.6 789.3,584.6 789.7,581.3 790.0,583.7 790.3,581.6 790.7,583.7 791.0,580.0 791.3,582.8 791.7,581.8 792.0,581.9 792.3,581.3 792.7,581.2 793.0,577.7 793.3,573.4 793.7,577.4 794.0,576.5 794.3,577.0 794.7,578.9 795.0,574.0 795.3,574.8 795.7,575.2 796.0,574.1 796.3,576.6 796.7,576.2 797.0,574.0 797.3,572.5 797.7,575.4 798.0,572.8 798.3,574.2 798.7,574.0 799.0,568.3 799.3,567.6 799.7,569.4 800.0,570.3 800.3,570.8 800.7,570.4 801.0,570.1 801.3,566.3 801.7,564.6 802.0,565.1 802.4,561.8 802.7,562.9 803.1,556.6 803.5,558.3 803.8,556.2 804.2,550.6 804.5,555.3 804.9,555.3 805.2,554.5 805.5,551.6 805.9,551.7 806.2,555.9 806.6,552.1 806.9,544.7 807.3,547.7 807.6,547.8 807.9,550.0 808.3,550.0 808.6,548.6 809.0,548.1 809.3,551.9 809.7,547.6 810.0,553.4 810.3,548.6 810.7,544.9 811.0,546.9 811.3,546.2 811.7,541.6 812.0,546.4 812.3,543.6 812.7,546.0 813.0,552.6 813.3,553.2 813.7,551.1 814.0,554.8 814.3,557.4 814.7,556.7 815.0,552.9 815.3,551.9 815.7,551.5 816.0,550.4 816.3,550.7 816.7,544.4 817.0,541.7 817.4,541.1 817.7,543.0 818.1,538.3 818.5,541.0 818.8,532.4 819.2,536.6 819.5,534.2 819.8,535.1 820.2,535.4 820.5,530.7 820.8,530.8 821.2,530.9 821.5,531.0 821.8,527.1 822.2,524.9 822.5,521.5 822.8,529.9 823.2,526.6 823.5,525.0 823.8,521.3 824.2,525.0 824.5,525.5 824.8,531.4 825.2,533.5 825.5,533.9 825.8,537.0 826.2,533.9 826.5,535.0 826.8,535.3 827.2,534.3 827.5,537.2 827.8,540.6 828.2,547.2 828.5,541.0 828.8,546.6 829.2,550.0 829.5,552.1 829.9,555.4 830.2,557.1 830.6,557.5 831.0,557.2 831.3,559.8 831.7,561.1 832.0,558.0 832.3,561.5 832.7,561.3 833.0,562.8 833.3,567.3 833.7,566.9 834.0,566.1 834.4,562.9 834.8,562.5 835.1,560.0 835.5,561.2 835.8,561.5 836.2,563.7 836.5,562.9 836.9,557.6 837.3,556.0 837.6,554.0 838.0,555.5 838.3,559.3 838.7,559.3 839.0,553.6 839.4,554.5 839.8,555.5 840.1,560.6 840.5,562.0 840.8,563.9 841.2,566.5 841.5,561.0 841.8,558.3 842.2,563.0 842.5,560.4 842.8,558.7 843.2,556.2 843.5,557.3 843.8,556.5 844.2,562.7 844.5,566.6 844.8,571.6 845.2,572.4 845.5,572.9 845.8,574.5 846.2,581.4 846.5,576.7 846.8,580.1 847.2,581.9 847.5,584.6 847.9,588.7 848.3,595.9 848.7,592.8 849.0,586.8 849.3,581.1 849.7,577.0 850.0,571.0 850.4,569.9 850.7,567.9 851.1,567.0 851.4,567.7 851.8,566.5 852.1,560.9 852.5,559.8 852.8,561.2 853.2,563.7 853.5,564.1 853.8,565.9 854.2,565.9 854.5,564.2 854.9,566.9 855.2,568.5 855.6,567.4 856.0,566.2 856.3,565.1 856.7,562.8 857.0,559.5 857.3,564.0 857.7,564.8 858.0,563.6 858.3,562.5 858.7,570.6 859.0,569.0 859.3,578.7 859.7,582.0 860.0,589.4 860.3,587.9 860.7,591.5 861.0,594.3 861.3,599.3 861.7,602.9 862.0,596.5 862.3,595.1 862.7,587.2 863.0,581.8 863.3,579.0 863.7,576.7 864.0,575.7 864.3,576.7 864.7,575.0 865.0,572.0 865.3,578.4 865.7,583.4 866.0,592.4 866.3,592.5 866.7,600.0 867.0,596.7 867.4,596.2 867.7,595.8 868.1,596.6 868.5,597.9 868.8,600.0 869.2,595.2 869.5,600.7 869.8,603.6 870.2,605.9 870.5,605.0 870.8,610.1 871.2,608.0 871.5,607.8 871.9,605.9 872.3,606.8 872.6,607.7 873.0,607.6 873.3,604.1 873.7,609.1 874.0,614.1 874.3,612.7 874.7,619.7 875.0,618.1 875.4,619.1 875.7,618.6 876.1,619.5 876.4,616.2 876.8,612.5 877.1,609.5 877.5,606.6 877.9,612.9 878.2,614.4 878.6,615.4 878.9,620.1 879.3,620.4 879.6,622.8 880.0,625.1 880.3,627.1 880.7,625.6 881.0,619.8 881.3,612.9 881.7,612.9 882.0,612.9 882.4,613.1 882.7,613.4 883.1,611.3 883.5,612.9 883.8,613.0 884.2,611.3 884.5,610.6 884.8,610.8 885.2,614.1 885.5,612.0 885.8,613.9 886.2,610.3 886.5,605.9 886.8,607.0 887.2,604.3 887.5,601.7 887.9,603.1 888.2,598.1 888.6,599.2 888.9,600.0 889.3,601.2 889.6,597.1 890.0,599.3 890.4,598.7 890.7,600.7 891.1,600.6 891.4,598.9 891.8,601.5 892.1,597.4 892.5,594.8 892.9,593.4 893.2,591.2 893.6,592.0 893.9,587.7 894.3,589.7 894.6,591.0 895.0,592.3 895.4,590.5 895.7,594.0 896.1,591.1 896.4,591.5 896.8,588.1 897.1,589.7 897.5,590.5 897.9,597.4 898.2,599.1 898.6,597.3 898.9,601.5 899.3,604.1 899.6,604.7 900.0,606.7 900.3,604.7 900.7,602.6 901.0,598.4 901.3,599.6 901.7,602.2 902.0,602.8 902.3,598.7 902.7,595.7 903.0,595.1 903.3,596.6 903.7,600.3 904.0,602.2 904.3,607.5 904.7,610.7 905.0,616.0 905.4,615.0 905.7,612.6 906.1,615.4 906.4,618.2 906.8,615.4 907.1,617.0 907.5,619.9 907.9,618.8 908.2,618.3 908.6,624.3 908.9,624.3 909.3,625.2 909.6,621.7 910.0,626.5 910.4,621.4 910.7,622.3 911.1,625.7 911.4,628.4 911.8,624.8 912.1,624.5 912.5,626.5 912.9,623.9 913.2,629.4 913.6,632.1 913.9,631.8 914.3,634.8 914.6,637.2 915.0,638.0 915.3,639.6 915.7,643.1 916.0,641.0 916.3,642.5 916.7,642.4 917.0,645.7 917.4,644.1 917.7,645.7 918.1,645.9 918.5,646.1 918.8,650.0 919.2,647.8 919.5,654.8 919.8,659.0 920.2,664.5 920.5,666.3 920.8,672.3 921.2,671.4 921.5,667.5 921.8,667.4 922.2,665.9 922.5,664.9 922.9,671.8 923.2,672.5 923.6,673.4 923.9,676.2 924.3,682.5 924.6,687.0 925.0,692.6 925.4,708.4 925.8,725.7 926.2,718.1 926.5,712.0 926.8,703.7 927.2,699.9 927.5,696.5 927.9,697.3 928.2,690.6 928.6,694.3 928.9,697.0 929.3,696.4 929.6,691.2 930.0,691.9 930.4,694.3 930.7,695.0 931.1,692.7 931.4,691.9 931.8,695.7 932.1,692.4 932.5,697.2 932.9,704.1 933.3,712.6 933.7,708.8 934.0,708.9 934.3,711.4 934.7,707.5 935.0,713.4 935.3,712.2 935.7,714.8 936.0,721.0 936.3,726.7 936.7,731.8 937.0,732.2 937.3,734.2 937.7,736.3 938.0,737.9 938.3,735.7 938.7,739.6 939.0,738.2 939.3,736.2 939.7,732.5 940.0,731.8 940.4,747.5 940.8,763.2 941.2,769.3 941.5,767.8 941.8,773.9 942.2,775.6 942.5,780.1 942.8,779.6 943.2,771.0 943.5,767.0 943.8,761.5 944.2,759.8 944.5,754.4 944.8,749.6 945.2,751.0 945.5,748.1 945.8,745.7 946.2,747.9 946.5,744.1 946.8,743.5 947.2,743.9 947.5,744.2 947.8,747.5 948.2,755.2 948.5,763.7 948.8,764.4 949.2,772.6 949.5,767.5 949.9,774.6 950.2,774.7 950.6,777.2 951.0,778.4 951.3,779.6 951.7,780.1 952.0,778.0 952.3,778.7 952.7,776.5 953.0,770.4 953.3,765.7 953.7,759.5 954.0,752.8 954.3,753.4 954.7,747.7 955.0,741.1 955.3,746.3 955.7,751.6 956.0,762.9 956.3,770.3 956.7,773.8 957.0,771.0 957.3,761.9 957.7,758.7 958.0,750.6 958.3,745.2 958.7,742.5 959.0,738.4 959.3,735.2 959.7,727.1 960.0,726.4 960.3,723.6 960.7,717.3 961.0,713.8 961.3,707.5 961.7,704.3 962.0,700.3 962.3,700.8 962.7,700.1 963.0,701.2 963.3,699.7 963.7,699.1 964.0,696.2 964.3,695.3 964.7,694.5 965.0,695.2 965.3,692.3 965.7,697.9 966.0,695.8 966.3,698.1 966.7,700.9 967.0,700.7 967.3,705.4 967.7,703.5 968.0,706.6 968.3,707.1 968.7,706.3 969.0,709.6 969.3,714.4 969.7,714.4 970.0,717.0 970.4,706.4 970.8,698.1 971.2,696.5 971.5,696.3 971.9,697.6 972.3,698.2 972.6,695.1 973.0,693.6 973.3,693.8 973.7,691.3 974.0,688.5 974.4,691.8 974.8,688.3 975.1,690.8 975.5,687.3 975.8,691.7 976.2,688.3 976.5,691.8 976.8,695.0 977.2,691.6 977.5,696.2 977.8,692.9 978.2,690.0 978.5,694.5 978.8,696.2 979.2,695.1 979.5,687.4 979.8,688.4 980.2,686.7 980.5,684.4 980.8,682.3 981.2,676.2 981.5,674.7 981.8,677.2 982.2,675.6 982.5,669.1 982.8,673.4 983.2,681.4 983.5,689.7 983.8,696.0 984.2,698.4 984.5,696.1 984.8,692.9 985.2,692.1 985.5,688.9 985.8,684.0 986.2,688.4 986.5,688.7 986.8,695.0 987.2,695.3 987.5,699.3 987.8,696.6 988.2,689.2 988.5,684.5 988.8,678.0 989.2,677.2 989.5,675.5 989.8,672.8 990.2,672.1 990.5,664.8 990.8,665.1 991.2,667.5 991.5,668.4 991.9,671.7 992.3,675.6 992.6,673.1 993.0,672.0 993.3,673.1 993.7,676.4 994.0,679.9 994.4,679.3 994.8,684.2 995.1,682.9 995.5,687.6 995.8,689.7 996.2,691.2 996.5,696.3 996.9,693.8 997.3,694.1 997.6,696.5 998.0,699.1 998.3,696.3 998.7,697.5 999.0,695.3 999.4,697.0 999.8,698.6 1000.1,696.0 1000.5,694.2 1000.8,693.8 1001.2,685.8 1001.5,690.0 1001.9,690.1 1002.3,688.3 1002.6,685.6 1003.0,683.0 1003.3,682.3 1003.7,689.5 1004.0,691.9 1004.3,698.4 1004.7,695.0 1005.0,700.8 1005.4,700.7 1005.7,698.4 1006.1,692.6 1006.4,691.2 1006.8,693.1 1007.1,686.9 1007.5,683.8 1007.9,687.2 1008.2,692.0 1008.6,698.6 1008.9,703.4 1009.3,701.9 1009.6,711.3 1010.0,712.7 1010.4,710.2 1010.7,713.0 1011.1,709.2 1011.4,704.4 1011.8,702.8 1012.1,701.0 1012.5,698.7 1012.8,702.6 1013.2,708.2 1013.5,710.8 1013.8,709.8 1014.2,720.0 1014.5,716.7 1014.8,719.1 1015.2,721.1 1015.5,724.6 1015.8,724.9 1016.2,720.6 1016.5,719.1 1016.8,710.9 1017.2,702.0 1017.5,698.5 1017.9,699.1 1018.2,701.7 1018.6,705.4 1018.9,708.5 1019.3,709.9 1019.6,714.3 1020.0,715.2 1020.3,714.0 1020.7,719.2 1021.0,719.6 1021.3,724.1 1021.7,722.8 1022.0,721.7 1022.3,719.0 1022.7,710.0 1023.0,707.6 1023.3,705.9 1023.7,709.1 1024.0,701.8 1024.4,703.6 1024.8,703.0 1025.1,700.0 1025.5,697.8 1025.8,693.0 1026.2,694.4 1026.5,696.1 1026.9,697.9 1027.3,700.0 1027.6,699.5 1028.0,699.1 1028.3,700.0 1028.7,700.3 1029.0,694.9 1029.4,692.8 1029.8,692.8 1030.1,691.4 1030.5,690.4 1030.8,683.9 1031.2,684.8 1031.5,683.8 1031.8,684.1 1032.2,676.9 1032.5,676.4 1032.8,678.6 1033.2,679.5 1033.5,681.3 1033.9,681.6 1034.2,677.3 1034.6,679.3 1034.9,678.0 1035.3,676.5 1035.6,680.9 1036.0,677.9 1036.3,676.4 1036.7,676.8 1037.0,675.5 1037.3,678.6 1037.7,678.1 1038.0,679.7 1038.3,677.9 1038.7,674.8 1039.0,676.8 1039.3,673.7 1039.7,672.6 1040.0,672.6 1040.4,673.6 1040.7,676.7 1041.1,674.3 1041.4,675.8 1041.8,675.9 1042.1,673.6 1042.5,673.4 1042.8,674.4 1043.2,675.6 1043.5,675.4 1043.8,675.3 1044.2,673.9 1044.5,673.6 1044.8,676.0 1045.2,674.4 1045.5,673.8 1045.8,676.4 1046.2,673.0 1046.5,672.6 1046.8,670.9 1047.2,669.6 1047.5,669.2 1047.9,667.5 1048.2,667.5 1048.6,664.4 1048.9,666.9 1049.3,665.3 1049.6,667.2 1050.0,660.7 1050.4,662.4 1050.7,664.9 1051.1,659.8 1051.4,662.1 1051.8,663.5 1052.1,663.8 1052.5,660.1 1052.8,664.7 1053.2,667.4 1053.5,667.3 1053.8,672.2 1054.2,673.5 1054.5,676.3 1054.9,678.1 1055.2,682.7 1055.6,685.3 1056.0,690.2 1056.3,692.3 1056.7,692.7 1057.0,691.9 1057.4,693.6 1057.7,691.0 1058.1,691.2 1058.5,691.1 1058.8,689.1 1059.2,683.4 1059.5,684.8 1059.9,684.0 1060.2,682.2 1060.6,678.2 1061.0,679.7 1061.3,675.9 1061.7,672.2 1062.0,670.9 1062.4,672.5 1062.7,669.6 1063.1,668.5 1063.5,674.2 1063.8,674.4 1064.2,673.6 1064.5,673.9 1064.9,672.2 1065.2,666.5 1065.6,670.5 1065.9,671.8 1066.2,670.5 1066.6,664.6 1066.9,669.2 1067.3,670.9 1067.6,667.4 1068.0,667.3 1068.3,668.4 1068.7,669.1 1069.0,673.2 1069.3,673.7 1069.7,676.5 1070.0,677.5 1070.3,676.1 1070.7,678.2 1071.0,689.3 1071.3,688.6 1071.7,692.0 1072.1,682.9 1072.5,675.0 1072.9,667.9 1073.3,659.8 1073.7,653.0 1074.0,641.9 1074.3,637.2 1074.7,633.3 1075.0,620.8 1075.3,624.5 1075.7,627.4 1076.0,629.8 1076.3,626.2 1076.7,625.8 1077.0,623.4 1077.3,624.7 1077.7,628.8 1078.0,633.9 1078.3,629.1 1078.7,631.4 1079.0,629.4 1079.4,626.0 1079.8,629.8 1080.1,620.3 1080.5,621.4 1080.8,621.6 1081.2,627.2 1081.5,629.0 1081.9,631.3 1082.3,628.1 1082.6,629.5 1083.0,631.4 1083.3,630.8 1083.7,630.4 1084.0,629.5 1084.4,629.0 1084.8,627.3 1085.1,633.9 1085.5,631.3 1085.8,627.3 1086.2,633.2 1086.7,636.3 1087.0,634.9 1087.3,636.6 1087.7,631.8 1088.0,628.5 1088.3,625.0 1088.7,626.7 1089.0,626.8 1089.3,628.7 1089.7,636.0 1090.0,633.2 1090.3,627.9 1090.7,631.2 1091.0,629.2 1091.3,627.5 1091.7,625.9 1092.0,625.3 1092.4,624.3 1092.7,625.0 1093.1,624.0 1093.5,623.9 1093.8,619.4 1094.2,618.5 1094.5,618.5 1094.8,623.2 1095.2,625.6 1095.5,624.8 1095.8,627.9 1096.2,634.7 1096.5,635.4 1096.8,631.9 1097.2,634.2 1097.5,637.9 1097.8,633.3 1098.2,630.3 1098.5,628.5 1098.8,623.7 1099.2,616.6 1099.5,617.3 1099.8,614.4 1100.2,612.6 1100.5,609.2 1100.8,605.0 1101.2,605.0 1101.5,607.2 1101.9,606.7 1102.3,603.4 1102.6,610.8 1103.0,608.7 1103.3,609.2 1103.7,613.0 1104.0,608.6 1104.3,615.8 1104.7,614.4 1105.0,617.6 1105.3,614.6 1105.7,614.4 1106.0,613.0 1106.3,611.5 1106.7,606.1 1107.0,606.9 1107.4,611.2 1107.7,616.7 1108.1,615.4 1108.5,618.2 1108.8,619.3 1109.2,621.3 1109.5,621.1 1109.9,614.8 1110.2,615.5 1110.6,613.8 1111.0,612.0 1111.3,609.3 1111.7,607.6 1112.0,606.7 1112.4,606.1 1112.7,613.5 1113.1,614.2 1113.5,610.6 1113.8,610.8 1114.2,607.0 1114.5,602.1 1114.9,602.7 1115.2,607.2 1115.6,611.7 1116.0,610.3 1116.3,607.9 1116.7,608.8 1117.0,609.4 1117.4,609.9 1117.7,613.9 1118.1,616.1 1118.5,617.3 1118.8,618.7 1119.2,620.4 1119.5,625.5 1119.8,631.5 1120.2,631.9 1120.5,639.0 1120.8,634.9 1121.2,635.7 1121.5,632.2 1121.8,632.5 1122.2,632.5 1122.5,632.8 1122.9,630.3 1123.3,623.1 1123.7,617.3 1124.0,615.3 1124.3,613.5 1124.7,608.6 1125.0,608.1 1125.3,610.3 1125.7,604.1 1126.0,605.4 1126.3,606.9 1126.7,600.8 1127.0,602.9 1127.3,602.4 1127.7,599.4 1128.0,603.8 1128.3,602.7 1128.7,600.5 1129.0,601.4 1129.4,601.9 1129.8,602.0 1130.1,601.3 1130.5,600.4 1130.8,596.4 1131.2,596.3 1131.5,597.1 1131.9,590.9 1132.3,598.9 1132.6,596.0 1133.0,593.2 1133.3,590.3 1133.7,592.7 1134.0,592.3 1134.4,590.1 1134.8,588.9 1135.1,586.7 1135.5,585.4 1135.8,585.6 1136.2,584.0 1136.5,585.6 1136.9,583.8 1137.3,583.1 1137.6,582.9 1138.0,584.0 1138.3,582.4 1138.7,579.3 1139.0,576.1 1139.3,572.3 1139.7,570.7 1140.0,571.0 1140.4,570.6 1140.7,569.0 1141.1,566.2 1141.4,564.7 1141.8,568.0 1142.1,570.5 1142.5,569.8 1142.9,566.1 1143.2,567.5 1143.6,569.1 1143.9,567.3 1144.3,569.6 1144.6,569.4 1145.0,568.1 1145.3,565.0 1145.7,567.2 1146.0,566.0 1146.3,561.8 1146.7,558.9 1147.0,564.6 1147.3,567.3 1147.7,567.6 1148.0,573.1 1148.3,572.2 1148.7,570.3 1149.0,574.6 1149.3,573.8 1149.7,575.1 1150.0,575.4 1150.3,572.0 1150.7,569.7 1151.0,570.4 1151.3,573.5 1151.7,568.7 1152.0,574.5 1152.3,575.3 1152.7,574.1 1153.0,577.9 1153.3,581.2 1153.7,576.8 1154.0,571.6 1154.3,574.0 1154.7,570.6 1155.0,571.7 1155.4,567.1 1155.7,569.0 1156.1,567.9 1156.4,565.8 1156.8,567.4 1157.1,568.5 1157.5,567.0 1157.9,563.7 1158.3,564.4 1158.7,558.7 1159.0,560.1 1159.3,559.0 1159.7,559.6 1160.0,556.6 1160.3,555.1 1160.7,554.2 1161.0,553.3 1161.3,550.0 1161.7,554.7 1162.0,554.2 1162.3,552.2 1162.7,549.6 1163.0,554.2 1163.3,553.6 1163.7,550.0 1164.0,552.8 1164.3,556.5 1164.7,553.8 1165.0,553.9 1165.3,552.3 1165.7,551.3 1166.0,554.8 1166.3,560.4 1166.7,556.1 1167.0,553.0 1167.3,553.3 1167.7,550.4 1168.0,550.9 1168.3,550.7 1168.7,546.3 1169.0,544.2 1169.3,545.2 1169.7,547.1 1170.0,546.1 1170.3,546.4 1170.7,539.8 1171.0,540.4 1171.3,537.1 1171.7,536.5 1172.0,536.6 1172.3,533.5 1172.7,533.5 1173.0,531.1 1173.3,532.9 1173.7,530.4 1174.0,529.6 1174.3,530.2 1174.7,527.9 1175.0,530.3 1175.4,531.8 1175.8,538.2 1176.2,537.5 1176.5,534.2 1176.8,534.6 1177.2,533.2 1177.5,533.5 1177.8,532.2 1178.2,535.2 1178.5,530.3 1178.8,531.8 1179.2,528.8 1179.5,523.0 1179.8,517.7 1180.2,521.1 1180.5,515.6 1180.8,518.3 1181.2,520.9 1181.5,520.6 1181.8,519.4 1182.2,519.2 1182.5,520.4 1182.8,521.2 1183.2,522.0 1183.5,523.7 1183.8,528.7 1184.2,527.7 1184.5,527.3 1184.8,522.8 1185.2,521.0 1185.5,517.9 1185.8,518.3 1186.2,518.2 1186.5,515.6 1186.8,511.3 1187.2,510.4 1187.5,506.3 1187.8,507.0 1188.2,506.8 1188.5,507.1 1188.8,500.6 1189.2,500.6 1189.6,511.8 1190.0,518.1 1190.3,528.7 1190.7,530.8 1191.0,534.6 1191.3,543.9 1191.7,548.9 1192.0,548.8 1192.3,544.1 1192.7,539.2 1193.0,537.7 1193.3,532.3 1193.7,530.7 1194.0,529.0 1194.3,528.3 1194.7,529.3 1195.0,526.1 1195.3,524.8 1195.7,521.1 1196.0,521.2 1196.3,512.0 1196.7,512.7 1197.0,513.8 1197.4,511.1 1197.7,514.2 1198.1,513.1 1198.5,514.5 1198.8,513.8 1199.2,512.5 1199.5,508.5 1199.8,503.9 1200.2,502.8 1200.5,500.6 1200.8,500.0 1201.2,497.7 1201.5,503.5 1201.8,494.8 1202.2,496.7 1202.5,493.1 1202.9,493.2 1203.2,496.0 1203.6,495.4 1203.9,492.9 1204.3,495.8 1204.6,495.8 1205.0,492.2 1205.3,496.2 1205.7,495.4 1206.0,496.2 1206.3,499.5 1206.7,500.7 1207.0,497.0 1207.3,499.1 1207.7,494.5 1208.0,488.9 1208.3,487.0 1208.7,486.3 1209.0,481.5 1209.4,480.9 1209.8,481.0 1210.1,488.2 1210.5,485.8 1210.8,484.6 1211.2,483.0 1211.5,485.3 1211.8,483.6 1212.2,486.2 1212.5,484.7 1212.8,487.5 1213.2,485.7 1213.5,486.9 1213.8,486.5 1214.2,487.8 1214.5,484.5 1214.8,485.7 1215.2,485.4 1215.5,485.9 1215.8,490.1 1216.2,490.7 1216.5,493.7 1216.9,494.8 1217.3,496.1 1217.6,497.5 1218.0,495.3 1218.3,498.3 1218.7,497.9 1219.0,498.2 1219.3,502.8 1219.7,507.3 1220.0,503.1 1220.3,510.6 1220.7,513.7 1221.0,513.6 1221.3,518.3 1221.7,522.6 1222.0,523.4 1222.3,522.6 1222.7,520.8 1223.0,523.4 1223.3,526.5 1223.7,526.7 1224.0,526.2 1224.4,526.7 1224.8,522.1 1225.1,522.2 1225.5,522.7 1225.8,524.0 1226.2,525.1 1226.5,527.8 1226.8,529.5 1227.2,535.7 1227.5,530.4 1227.8,529.9 1228.2,533.5 1228.5,528.5 1228.8,520.9 1229.2,520.9 1229.5,519.5 1229.9,521.4 1230.2,524.8 1230.6,529.9 1231.0,529.8 1231.3,531.0 1231.7,532.9 1232.0,528.8 1232.3,523.4 1232.7,521.3 1233.0,519.8 1233.3,516.2 1233.7,515.1 1234.0,515.4 1234.3,513.0 1234.7,513.2 1235.0,515.3 1235.3,515.4 1235.7,516.3 1236.0,519.5 1236.3,518.3 1236.7,517.2 1237.0,515.4 1237.3,515.6 1237.7,519.4 1238.0,518.7 1238.3,521.9 1238.7,519.8 1239.0,521.8 1239.3,522.3 1239.7,525.0 1240.0,523.2 1240.3,524.5 1240.7,527.6 1241.0,529.5 1241.3,535.0 1241.7,534.1 1242.0,534.4 1242.4,536.2 1242.7,539.7 1243.1,541.7 1243.5,544.6 1243.8,542.4 1244.2,551.1 1244.5,550.4 1244.8,545.2 1245.2,539.8 1245.5,539.7 1245.8,539.1 1246.2,532.9 1246.5,534.8 1246.8,531.7 1247.2,534.0 1247.5,536.1 1247.8,533.2 1248.2,524.6 1248.5,525.5 1248.8,522.7 1249.2,516.8 1249.5,517.5 1249.8,519.6 1250.2,516.2 1250.5,515.5 1250.8,513.9 1251.2,516.7 1251.5,510.5 1251.8,515.7 1252.2,512.2 1252.5,514.8 1252.8,511.7 1253.2,513.0 1253.5,515.0 1253.8,519.6 1254.2,516.9 1254.5,520.5 1254.8,519.4 1255.2,523.2 1255.5,521.4 1255.8,522.7 1256.2,519.3 1256.5,520.8 1256.8,515.2 1257.2,512.5 1257.5,514.3 1257.8,510.0 1258.2,508.7 1258.5,504.2 1258.8,503.5 1259.2,496.9 1259.5,499.7 1259.9,498.8 1260.2,496.4 1260.6,495.4 1261.0,500.2 1261.3,500.0 1261.7,495.5 1262.0,500.5 1262.4,496.4 1262.7,495.2 1263.1,495.7 1263.5,492.4 1263.8,489.8 1264.2,490.3 1264.5,494.3 1264.9,494.9 1265.2,489.4 1265.6,493.1 1266.0,491.6 1266.3,491.8 1266.7,490.6 1267.0,491.7 1267.3,489.6 1267.7,489.5 1268.0,490.3 1268.3,491.7 1268.7,492.9 1269.0,488.6 1269.4,492.3 1269.8,488.1 1270.1,486.0 1270.5,487.2 1270.8,486.3 1271.2,483.7 1271.5,480.6 1271.8,479.1 1272.2,476.6 1272.5,480.9 1272.9,482.8 1273.2,485.3 1273.6,483.5 1273.9,482.6 1274.3,483.4 1274.6,484.2 1275.0,482.1 1275.3,483.2 1275.7,487.9 1276.0,481.8 1276.3,480.7 1276.7,481.7 1277.0,484.4 1277.3,485.7 1277.7,482.2 1278.0,482.5 1278.3,480.4 1278.7,480.4 1279.0,478.5 1279.3,478.6 1279.7,478.5 1280.0,480.7 1280.3,486.2 1280.7,481.1 1281.0,485.8 1281.3,487.8 1281.7,492.1 1282.0,490.7 1282.3,488.0 1282.7,485.7 1283.0,479.6 1283.3,474.3 1283.7,479.5 1284.0,479.6 1284.3,474.5 1284.7,476.8 1285.0,475.6 1285.3,469.9 1285.7,475.7 1286.0,474.4 1286.3,479.1 1286.7,477.5 1287.1,482.3 1287.5,486.1 1287.9,506.5 1288.3,528.2 1288.8,515.8 1289.2,502.4 1289.6,546.9 1290.0,586.1 1290.5,621.5 1291.1,598.9 1291.8,681.9 1292.4,646.4 1292.8,641.8 1293.3,636.1 1293.7,623.5 1294.4,589.4 1295.0,585.2 1295.6,611.0 1296.3,617.8 1296.9,577.7 1297.6,566.1 1298.2,600.8 1298.9,620.0 1299.5,598.0 1300.2,618.2 1300.8,570.1 1301.3,579.9 1301.7,583.5 1302.1,588.2 1302.6,595.9 1303.0,600.8 1303.4,606.4 1303.9,604.6 1304.3,605.8 1304.7,600.7 1305.4,631.3 1306.0,596.2 1306.5,599.9 1306.9,613.1 1307.3,616.9 1307.7,609.8 1308.2,607.9 1308.6,606.2 1309.0,587.7 1309.5,573.8 1309.9,562.1 1310.6,596.8 1311.0,605.9 1311.4,613.4 1311.9,618.8 1312.3,608.5 1312.7,600.4 1313.2,591.0 1313.6,585.6 1314.0,580.7 1314.4,573.8 1314.9,574.9 1315.3,577.8 1315.7,571.4 1316.2,571.9 1316.6,573.4 1317.0,573.8 1317.7,582.3 1318.1,576.3 1318.6,574.3 1319.0,569.7 1319.3,566.8 1319.7,561.1 1320.0,560.4 1320.3,558.7 1320.7,554.2 1321.0,552.6 1321.3,553.5 1321.7,543.4 1322.0,543.3 1322.3,537.7 1322.7,533.5 1323.0,532.6 1323.3,532.2 1323.8,526.1 1324.2,517.6 1324.5,515.2 1324.9,515.6 1325.2,516.3 1325.6,514.1 1326.0,511.3 1326.3,516.6 1326.7,512.4 1327.0,512.0 1327.4,510.5 1327.7,509.5 1328.1,510.0 1328.5,508.9 1328.8,510.1 1329.2,506.2 1329.5,506.1 1329.8,514.4 1330.2,514.1 1330.5,516.9 1330.8,519.9 1331.2,519.6 1331.5,518.9 1331.8,515.7 1332.2,514.9 1332.5,520.5 1332.8,518.0 1333.2,514.4 1333.5,506.1 1333.8,499.8 1334.2,497.5 1334.5,499.3 1334.8,503.9 1335.2,504.1 1335.5,510.8 1335.8,509.5 1336.2,506.6 1336.5,507.4 1336.8,505.2 1337.2,500.5 1337.5,501.2 1337.8,502.2 1338.2,494.3 1338.5,492.1 1338.8,488.1 1339.2,483.3 1339.5,486.5 1339.9,486.8 1340.2,486.6 1340.6,484.4 1341.0,477.5 1341.3,478.4 1341.7,476.4 1342.0,475.6 1342.4,475.8 1342.7,480.2 1343.1,479.8 1343.5,484.7 1343.8,483.6 1344.2,478.4 1344.5,479.4 1344.8,478.6 1345.2,473.8 1345.5,467.5 1345.8,469.7 1346.2,464.4 1346.5,464.9 1346.9,460.9 1347.3,460.6 1347.6,459.2 1348.0,464.4 1348.3,466.0 1348.7,465.1 1349.0,463.8 1349.3,467.2 1349.7,470.4 1350.0,468.5 1350.3,467.1 1350.7,468.2 1351.0,469.7 1351.3,468.2 1351.7,467.8 1352.0,462.7 1352.3,457.2 1352.7,460.2 1353.0,457.5 1353.3,457.2 1353.7,454.8 1354.0,454.3 1354.3,449.9 1354.7,451.6 1355.0,447.6 1355.3,447.1 1355.7,446.5 1356.0,446.5 1356.3,444.5 1356.7,438.6 1357.1,436.7 1357.5,439.8 1357.9,433.8 1358.3,428.6 1358.8,413.4 1359.2,395.9 1359.5,393.6 1359.8,392.0 1360.2,394.5 1360.5,392.7 1360.8,394.3 1361.2,408.4 1361.7,426.6 1362.0,421.4 1362.3,414.1 1362.7,415.9 1363.0,411.5 1363.3,409.9 1363.7,406.3 1364.0,402.5 1364.3,401.0 1364.7,396.4 1365.0,393.3 1365.3,390.2 1365.7,387.8 1366.0,383.0 1366.3,381.8 1366.7,380.1 1367.0,385.8 1367.3,388.2 1367.7,385.8 1368.0,387.9 1368.3,387.1 1368.7,391.7 1369.0,394.9 1369.3,397.6 1369.7,402.5 1370.0,403.4 1370.3,403.8 1370.7,400.6 1371.0,396.1 1371.3,394.3 1371.7,393.9 1372.0,390.1 1372.3,389.9 1372.7,388.8 1373.0,389.2 1373.3,382.3 1373.7,388.7 1374.0,396.2 1374.3,404.9 1374.7,409.1 1375.0,415.6 1375.3,407.6 1375.7,404.6 1376.0,406.2 1376.3,400.4 1376.7,401.5 1377.0,396.1 1377.3,394.8 1377.7,391.0 1378.0,394.1 1378.3,393.9 1378.7,395.6 1379.0,390.6 1379.3,386.5 1379.7,381.0 1380.0,380.4 1380.4,384.0 1380.7,385.3 1381.1,387.2 1381.4,387.6 1381.8,386.2 1382.1,387.6 1382.5,387.6 1382.8,386.1 1383.2,393.5 1383.5,394.5 1383.8,393.0 1384.2,396.9 1384.5,402.4 1384.8,409.1 1385.2,415.7 1385.5,411.5 1385.8,421.0 1386.2,423.1 1386.5,417.4 1386.8,412.3 1387.2,414.1 1387.5,413.7 1387.9,414.7 1388.2,412.2 1388.6,413.0 1388.9,415.0 1389.3,417.3 1389.6,421.5 1390.0,419.2 1390.3,415.6 1390.7,410.0 1391.0,415.2 1391.3,413.9 1391.7,413.1 1392.0,412.4 1392.3,416.8 1392.7,413.7 1393.0,417.6 1393.3,419.9 1393.7,418.6 1394.0,419.1 1394.3,414.9 1394.7,412.5 1395.0,412.0 1395.4,406.4 1395.7,406.5 1396.1,406.7 1396.4,408.1 1396.8,404.2 1397.1,405.7 1397.5,404.7 1397.8,401.9 1398.2,401.8 1398.5,402.7 1398.8,407.4 1399.2,410.0 1399.5,414.2 1399.8,417.7 1400.2,417.6 1400.5,422.9 1400.8,425.9 1401.2,431.1 1401.7,436.7 1402.0,431.8 1402.3,433.0 1402.7,429.7 1403.0,427.6 1403.3,428.0 1403.7,428.9 1404.0,428.3 1404.4,427.0 1404.8,424.7 1405.1,426.0 1405.5,423.9 1405.8,421.3 1406.2,420.6 1406.7,421.1 1407.0,420.8 1407.3,420.7 1407.7,427.6 1408.0,432.2 1408.3,430.9 1408.7,429.4 1409.0,429.5 1409.4,435.2 1409.8,430.7 1410.1,430.7 1410.5,429.2 1410.8,423.4 1411.2,423.8 1411.5,424.1 1411.8,428.2 1412.2,429.4 1412.5,433.9 1412.8,429.8 1413.2,429.0 1413.5,427.5 1413.8,426.5 1414.2,430.2 1414.5,428.2 1414.9,430.5 1415.2,431.4 1415.6,428.0 1416.0,430.1 1416.3,429.0 1416.7,430.1 1417.0,433.1 1417.3,435.5 1417.7,437.0 1418.0,443.7 1418.3,443.8 1418.7,443.0 1419.0,443.6 1419.3,440.2 1419.7,438.6 1420.0,437.5 1420.3,435.9 1420.7,435.8 1421.0,428.0 1421.3,431.8 1421.7,428.1 1422.0,420.7 1422.3,418.8 1422.7,414.7 1423.0,414.6 1423.3,409.6 1423.7,410.8 1424.0,414.7 1424.3,416.5 1424.7,415.6 1425.0,417.2 1425.3,419.1 1425.7,421.0 1426.0,422.3 1426.3,423.2 1426.7,426.8 1427.0,422.4 1427.3,423.6 1427.7,425.6 1428.0,425.3 1428.3,425.1 1428.7,424.2 1429.0,424.6 1429.3,426.4 1429.7,423.2 1430.0,421.3 1430.3,424.0 1430.7,424.7 1431.0,422.3 1431.3,427.4 1431.7,428.8 1432.0,429.8 1432.4,433.7 1432.7,434.7 1433.1,434.6 1433.5,432.0 1433.8,433.0 1434.2,438.1 1434.5,436.7 1434.8,436.0 1435.2,433.7 1435.5,429.9 1435.8,425.3 1436.2,425.2 1436.6,427.4 1437.0,426.2 1437.4,428.7 1437.8,424.3 1438.1,421.0 1438.5,422.7 1438.9,422.8 1439.3,432.0 1439.6,431.1 1440.0,434.5 1440.4,437.0 1440.7,438.3 1441.1,438.4 1441.5,439.8 1441.9,444.0 1442.2,444.8 1442.6,446.6 1443.0,438.3 1443.3,443.4 1443.7,445.8 1444.1,450.5 1444.4,451.0 1444.8,453.3 1445.2,454.7 1445.6,454.8 1445.9,456.9 1446.3,455.4 1446.7,459.7 1447.0,457.2 1447.4,462.5 1447.8,446.0 1448.1,440.9 1448.5,449.9 1448.9,461.0 1449.3,465.3 1449.6,467.1 1450.0,467.3 1450.4,471.9 1450.7,468.2 1451.1,469.8 1451.5,471.4 1451.9,467.1 1452.2,458.2 1452.6,458.2 1453.0,455.7 1453.3,460.4 1453.7,461.1 1454.1,457.4 1454.4,455.8 1454.8,447.7 1455.2,445.8 1455.6,441.5 1455.9,438.5 1456.3,433.7 1456.7,433.5 1457.0,428.1 1457.4,420.1 1457.8,407.8 1458.1,412.7 1458.5,408.9 1458.9,403.6 1459.3,407.7 1459.6,408.3 1460.0,406.1 1460.4,419.5 1460.7,426.6 1461.1,424.2 1461.5,421.6 1461.9,415.4 1462.2,420.5 1462.6,433.9 1463.0,441.9 1463.3,441.5 1463.7,445.8 1464.1,445.1 1464.4,450.1 1464.8,459.3 1465.2,468.6 1465.6,464.9 1465.9,462.2 1466.3,461.3 1466.7,461.2 1467.0,464.3 1467.4,467.5 1467.8,473.7 1468.1,478.9 1468.5,480.8 1468.9,484.2 1469.3,487.3 1469.6,489.0 1470.0,482.2 1470.4,474.5 1470.7,469.2 1471.1,464.0 1471.5,460.6 1471.9,458.6 1472.2,451.6 1472.6,446.8 1473.0,451.0 1473.3,449.5 1473.7,449.7 1474.1,448.3 1474.4,453.2 1474.8,453.5 1475.2,454.0 1475.6,458.0 1475.9,476.8 1476.3,498.8 1476.7,489.7 1477.0,482.7 1477.4,479.9 1477.8,478.7 1478.1,474.7 1478.5,475.7 1478.9,468.3 1479.3,466.1 1479.6,462.7 1480.0,462.5 1480.4,464.4 1480.7,467.5 1481.1,468.2 1481.5,469.1 1481.9,463.2 1482.2,460.0 1482.6,464.9 1483.0,471.5 1483.3,477.1 1483.7,483.5 1484.1,480.6 1484.4,477.5 1484.8,474.9 1485.2,475.8 1485.6,465.3 1485.9,457.4 1486.3,450.8 1486.7,449.4 1487.0,446.5 1487.4,436.4 1487.8,434.8 1488.1,431.2 1488.5,429.3 1488.9,424.0 1489.3,422.6 1489.6,417.3 1490.0,414.6 1490.4,412.2 1490.7,413.5 1491.1,407.9 1491.5,410.9 1491.9,411.0 1492.2,410.3 1492.6,413.1 1493.0,410.0 1493.3,403.0 1493.7,400.7 1494.1,394.0 1494.4,392.1 1494.8,393.4 1495.2,392.3 1495.6,389.8 1495.9,393.7 1496.3,402.6 1496.7,406.7 1497.0,408.3 1497.4,411.9 1497.8,411.1 1498.1,432.7 1498.5,452.3 1498.9,447.6 1499.3,440.8 1499.6,436.8 1500.0,432.4 1500.4,430.2 1500.7,424.8 1501.1,420.0 1501.5,413.2 1501.9,417.8 1502.2,421.2 1502.6,420.0 1503.0,423.3 1503.3,431.2 1503.7,438.5 1504.1,432.5 1504.4,435.1 1504.8,426.2 1505.2,425.9 1505.6,420.5 1505.9,418.8 1506.3,411.7 1506.7,407.1 1507.0,407.6 1507.4,407.0 1507.8,404.2 1508.1,405.4 1508.5,404.6 1508.9,405.2 1509.3,395.0 1509.6,387.6 1510.0,386.4 1510.4,384.6 1510.7,386.1 1511.1,386.6 1511.5,388.7 1511.9,385.3 1512.2,384.8 1512.6,385.7 1513.0,382.6 1513.3,381.3 1513.7,380.3 1514.1,377.5 1514.4,375.9 1514.8,379.7 1515.2,378.7 1515.6,377.6 1515.9,374.4 1516.3,376.0 1516.7,378.6 1517.0,374.2 1517.4,374.9 1517.8,380.4 1518.1,384.0 1518.5,386.5 1518.9,382.0 1519.3,382.8 1519.6,380.0 1520.0,381.6 1520.4,380.1 1520.7,380.6 1521.1,384.9 1521.5,385.1 1521.9,384.9 1522.2,386.5 1522.6,398.8 1523.0,409.1 1523.3,405.0 1523.7,401.0 1524.1,398.3 1524.4,386.1 1524.8,386.0 1525.2,386.2 1525.6,391.3 1525.9,396.8 1526.3,394.1 1526.7,393.3 1527.0,396.2 1527.4,390.1 1527.8,393.6 1528.1,389.2 1528.5,402.5 1528.9,411.1 1529.3,408.3 1529.6,407.2 1530.0,402.8 1530.4,403.1 1530.7,403.8 1531.1,406.1 1531.5,413.0 1531.9,410.1 1532.2,413.4 1532.6,412.0 1533.0,417.3 1533.3,419.9 1533.7,420.2 1534.1,423.5 1534.4,427.3 1534.8,429.4 1535.2,428.3 1535.6,429.0 1535.9,432.9 1536.3,429.9 1536.7,432.7 1537.0,437.7 1537.4,441.4 1537.8,447.1 1538.1,451.0 1538.5,451.1 1538.9,453.4 1539.3,452.2 1539.6,448.8 1540.0,445.7 1540.4,440.7 1540.7,436.6 1541.1,432.8 1541.5,424.7 1541.9,419.3 1542.2,411.4 1542.6,416.1 1543.0,412.5 1543.3,409.3 1543.7,413.1 1544.1,416.2 1544.4,422.3 1544.8,424.0 1545.2,432.4 1545.6,433.2 1545.9,433.7 1546.3,435.2 1546.7,436.5 1547.0,440.6 1547.4,446.1 1547.8,444.1 1548.1,443.5 1548.5,447.6 1548.9,451.0 1549.3,447.6 1549.6,449.1 1550.0,451.1 1550.4,456.8 1550.7,460.4 1551.1,460.7 1551.5,462.7 1551.9,469.7 1552.2,468.7 1552.6,476.6 1553.0,478.1 1553.3,484.4 1553.7,485.8 1554.1,484.1 1554.4,480.7 1554.8,477.7 1555.2,473.9 1555.6,472.5 1555.9,472.1 1556.3,464.8 1556.7,463.2 1557.0,464.6 1557.4,468.1 1557.8,468.4 1558.1,470.9 1558.5,474.1 1558.9,468.2 1559.3,469.5 1559.6,464.9 1560.0,459.0 1560.3,457.4 1560.7,459.5 1561.0,460.3 1561.3,465.8 1561.7,463.4 1562.0,462.6 1562.3,463.8 1562.7,462.6 1563.0,459.7 1563.3,453.8 1563.7,459.1 1564.0,458.8 1564.3,456.0 1564.7,455.4 1565.0,452.8 1565.3,451.3 1565.7,448.8 1566.0,451.6 1566.3,452.0 1566.7,450.7 1567.0,454.3 1567.3,456.5 1567.7,457.9 1568.0,457.7 1568.3,462.4 1568.7,466.8 1569.0,468.7 1569.3,472.2 1569.7,471.2 1570.0,471.3 1570.4,482.0 1570.8,486.1 1571.2,497.0 1571.7,506.4 1572.0,506.3 1572.3,505.4 1572.7,504.3 1573.0,501.0 1573.3,507.6 1573.7,507.3 1574.0,503.3 1574.3,504.8 1574.7,505.4 1575.0,507.1 1575.3,505.2 1575.7,512.3 1576.0,518.2 1576.3,517.2 1576.7,520.1 1577.0,521.9 1577.3,519.7 1577.7,525.3 1578.0,522.0 1578.3,524.4 1578.7,526.4 1579.0,531.5 1579.3,531.7 1579.7,532.1 1580.0,531.6 1580.3,534.9 1580.7,537.3 1581.0,540.9 1581.3,544.9 1581.7,546.2 1582.1,578.5 1582.5,611.7 1582.8,612.5 1583.2,608.0 1583.5,604.2 1583.8,605.1 1584.2,603.1 1584.5,598.2 1584.8,593.1 1585.2,588.2 1585.5,588.2 1585.8,583.0 1586.2,581.3 1586.5,574.3 1586.8,571.2 1587.2,568.2 1587.5,563.9 1587.9,559.0 1588.3,554.4 1588.8,539.6 1589.2,526.9 1589.5,530.6 1589.8,537.4 1590.2,536.9 1590.5,536.3 1590.8,538.0 1591.2,543.5 1591.7,550.7 1592.1,537.1 1592.5,527.7 1592.9,526.7 1593.2,524.7 1593.6,522.3 1593.9,522.7 1594.3,521.2 1594.6,522.9 1595.0,518.0 1595.3,519.8 1595.7,517.7 1596.0,514.6 1596.3,513.6 1596.7,509.3 1597.0,501.3 1597.3,500.5 1597.7,499.3 1598.0,494.8 1598.3,490.5 1598.7,491.9 1599.0,491.7 1599.3,488.8 1599.7,487.3 1600.0,485.3 1600.3,485.6 1600.7,487.3 1601.0,490.7 1601.3,486.6 1601.7,488.3 1602.0,493.9 1602.3,493.7 1602.7,493.9 1603.0,496.1 1603.3,493.6 1603.7,494.9 1604.0,496.4 1604.3,499.2 1604.7,505.9 1605.0,511.4 1605.3,512.9 1605.7,515.1 1606.0,520.3 1606.3,524.8 1606.7,527.7 1607.0,523.9 1607.3,526.2 1607.7,523.4 1608.0,529.0 1608.3,529.3 1608.7,529.7 1609.0,534.6 1609.4,536.1 1609.8,534.9 1610.1,534.3 1610.5,534.0 1610.8,532.4 1611.2,533.6 1611.5,538.7 1611.9,535.0 1612.3,534.6 1612.6,536.7 1613.0,539.5 1613.3,540.8 1613.7,538.8 1614.0,541.0 1614.3,542.5 1614.7,542.1 1615.0,545.8 1615.4,552.0 1615.8,561.5 1616.2,557.5 1616.5,550.8 1616.8,547.8 1617.2,543.2 1617.5,538.3 1617.8,537.7 1618.2,540.4 1618.5,537.7 1618.8,533.6 1619.2,533.7 1619.5,542.7 1619.8,552.2 1620.2,552.1 1620.5,557.0 1620.8,562.3 1621.2,550.0 1621.5,543.0 1621.8,533.1 1622.2,523.9 1622.5,518.3 1622.8,513.2 1623.2,512.8 1623.5,511.9 1623.8,507.5 1624.2,505.2 1624.5,511.5 1624.8,513.2 1625.2,513.9 1625.5,512.7 1625.8,517.9 1626.2,532.4 1626.7,550.2 1627.0,545.7 1627.3,539.8 1627.7,533.8 1628.0,528.4 1628.3,522.4 1628.8,510.3 1629.2,497.3 1629.5,493.6 1629.8,490.2 1630.2,484.3 1630.5,477.4 1630.8,474.9 1631.2,471.2 1631.5,460.9 1631.8,456.1 1632.2,450.8 1632.5,445.0 1632.9,444.5 1633.2,442.8 1633.6,441.8 1633.9,445.0 1634.3,445.9 1634.6,439.2 1635.0,434.1 1635.3,438.2 1635.7,436.8 1636.0,436.3 1636.3,433.3 1636.7,436.0 1637.1,448.0 1637.5,458.7 1637.9,474.0 1638.3,490.7 1638.7,488.8 1639.0,486.6 1639.3,481.6 1639.7,481.3 1640.0,478.8 1640.3,483.3 1640.7,485.2 1641.0,486.0 1641.3,489.1 1641.7,489.0 1642.0,489.7 1642.3,490.3 1642.7,485.5 1643.0,484.7 1643.3,478.6 1643.7,481.6 1644.0,481.9 1644.3,477.3 1644.7,480.9 1645.0,478.0 1645.3,477.1 1645.7,479.9 1646.0,488.1 1646.3,490.9 1646.7,497.2 1647.0,496.8 1647.3,502.6 1647.7,509.7 1648.0,511.5 1648.3,517.8 1648.7,520.3 1649.0,525.3 1649.3,529.6 1649.7,537.8 1650.0,535.8 1650.3,532.7 1650.7,529.3 1651.0,519.4 1651.3,515.1 1651.7,514.8 1652.0,515.3 1652.3,507.7 1652.7,511.8 1653.0,510.9 1653.3,515.8 1653.7,510.1 1654.0,505.5 1654.3,500.2 1654.7,497.8 1655.0,492.3 1655.3,492.0 1655.7,494.0 1656.0,496.7 1656.3,495.7 1656.7,500.1 1657.0,501.1 1657.3,509.5 1657.7,514.4 1658.0,524.1 1658.3,526.4 1658.8,515.1 1659.2,503.3 1659.5,506.4 1659.8,502.4 1660.2,495.2 1660.5,492.1 1660.8,487.5 1661.2,485.7 1661.5,478.4 1661.8,466.3 1662.2,462.5 1662.5,458.3 1663.0,424.3 1663.3,413.1 1663.7,400.2 1664.1,398.7 1664.4,396.9 1664.8,393.2 1665.2,392.9 1665.6,399.7 1665.9,406.0 1666.3,403.0 1666.7,400.3 1667.0,401.1 1667.4,401.6 1667.8,398.4 1668.1,403.2 1668.5,410.8 1668.9,414.5 1669.3,414.2 1669.6,420.5 1670.0,419.6 1670.4,421.6 1670.7,436.7 1671.1,443.2 1671.5,428.5 1671.9,411.2 1672.2,406.9 1672.6,402.2 1673.0,399.9 1673.3,392.6 1673.7,391.1 1674.1,383.2 1674.4,378.2 1674.8,373.7 1675.2,372.4 1675.6,371.0 1675.9,372.6 1676.3,380.6 1676.7,386.6 1677.0,391.2 1677.4,385.9 1677.8,378.3 1678.1,378.4 1678.5,374.1 1678.9,379.8 1679.3,380.5 1679.6,387.3 1680.0,393.9 1680.4,399.0 1680.7,408.1 1681.1,418.7 1681.5,424.0 1681.9,416.5 1682.2,417.4 1682.6,404.9 1683.0,400.0 1683.3,405.0 1683.7,406.1 1684.1,404.3 1684.4,410.5 1684.8,393.9 1685.2,372.1 1685.6,375.7 1685.9,374.6 1686.3,375.5 1686.7,369.7 1687.0,368.1 1687.4,369.1 1687.8,368.4 1688.1,364.7 1688.5,356.1 1688.9,349.9 1689.3,342.3 1689.6,339.8 1690.0,350.3 1690.4,364.4 1690.7,387.4 1691.1,414.5 1691.5,397.7 1691.9,372.7 1692.2,374.1 1692.6,370.4 1693.0,374.7 1693.3,381.7 1693.7,374.4 1694.1,369.1 1694.4,371.0 1694.8,369.9 1695.2,375.9 1695.6,379.1 1695.9,388.6 1696.3,398.9 1696.7,419.2 1697.0,435.4 1697.4,435.1 1697.8,429.4 1698.1,429.6 1698.5,426.0 1698.9,437.7 1699.3,450.9 1699.6,460.8 1700.0,470.6 1700.4,462.2 1700.7,459.6 1701.1,456.8 1701.5,449.5 1701.9,441.8 1702.2,430.1 1702.6,421.7 1703.0,417.2 1703.3,427.0 1703.7,431.3 1704.1,434.3 1704.4,442.4 1704.8,437.4 1705.2,436.5 1705.6,439.0 1705.9,434.4 1706.3,443.7 1706.7,456.4 1707.0,464.8 1707.4,476.3 1707.8,477.0 1708.1,477.0" stroke="#ff0000" stroke-width="2.2" fill="none" stroke-linejoin="round"/><path d="M77.5,486.7 82.5,486.3 83.0,475.8 89.5,475.8 90.0,475.0 96.2,475.0 96.7,473.3 97.5,470.0 103.3,469.7 104.2,460.8 111.3,460.5 111.7,440.0 117.5,439.7 118.3,420.0 123.3,419.7 123.3,390.8 130.8,390.5 134.2,380.0 136.2,380.0 136.7,378.0 141.2,378.0 141.7,375.8 143.7,375.8 144.2,378.3 147.8,378.3 148.3,377.0 148.7,341.3 155.0,340.8 158.7,340.8 159.2,339.6 162.8,339.6 163.3,338.3 169.5,338.3 170.0,336.3 176.2,336.3 176.7,337.0 182.8,337.0 183.3,332.0 189.5,332.0 190.0,330.0 196.2,330.0 196.7,328.7 201.2,328.7 201.7,331.7 204.5,331.7 205.0,328.7 211.2,328.7 211.7,327.5 216.2,327.5 216.7,326.3 222.8,326.3 223.3,325.5 226.2,325.5 226.7,324.7 232.8,324.7 233.3,325.3 239.5,325.3 240.0,324.7 242.8,324.7 243.3,326.7 247.8,326.7 248.3,330.3 252.8,330.3 253.3,328.3 257.8,328.3 258.3,327.5 261.7,332.5 266.7,333.0 273.0,332.5 273.3,366.7 277.5,366.3 280.0,363.0 286.2,363.0 286.7,362.0 288.3,366.7 290.8,375.0 293.3,369.2 297.8,369.2 298.3,367.5 301.7,363.3 305.0,358.3 311.2,358.3 311.7,361.7 314.5,361.7 315.0,358.3 319.5,358.3 320.0,357.5 326.2,357.5 326.7,353.3 331.7,353.0 334.5,353.0 335.0,350.0 341.2,350.0 341.7,347.5 346.2,347.5 346.7,349.2 350.0,349.7 351.7,363.3 353.3,368.3 357.8,368.3 358.3,371.3 361.7,376.7 362.5,386.7 366.2,386.7 366.7,387.5 370.0,400.0 370.8,403.3 371.7,436.7 374.5,436.7 375.0,434.2 376.7,450.0 378.3,473.3 381.7,478.8 386.2,478.8 386.7,482.1 390.0,492.1 392.8,492.1 393.3,493.8 399.5,493.8 400.0,497.1 404.2,492.1 409.5,492.1 410.0,485.5 413.7,485.5 414.2,484.6 417.8,484.6 418.3,483.8 430.0,483.8 436.7,473.8 441.2,473.8 441.7,474.6 444.2,487.1 447.8,487.1 448.3,483.8 451.7,493.8 453.3,455.5 459.5,455.5 460.0,452.1 463.3,457.1 470.0,473.8 474.5,473.8 475.0,477.1 479.5,477.1 480.0,480.5 486.7,492.1 491.2,492.1 491.7,490.5 496.2,490.5 496.7,488.8 502.8,488.8 503.3,490.5 508.3,477.1 514.5,477.1 515.0,478.8 518.3,487.1 522.0,487.1 522.5,488.8 526.2,488.8 526.7,490.5 531.2,490.5 531.7,493.8 536.2,493.8 536.7,497.1 542.0,497.1 542.5,499.6 547.8,499.6 548.3,502.1 550.0,506.7 550.8,518.3 556.2,518.3 556.7,517.5 559.5,517.5 560.0,520.0 564.5,520.0 565.0,522.5 567.8,522.5 568.3,520.0 574.5,520.0 575.0,519.2 581.2,519.2 581.7,515.8 586.2,515.8 586.7,515.0 590.0,509.7 591.7,515.8 598.3,515.3 601.7,523.3 607.8,523.3 608.3,520.8 608.3,512.5 610.0,517.5 612.8,517.5 613.3,515.0 619.5,515.0 620.0,515.8 622.8,515.8 623.3,515.0 626.2,515.0 626.7,518.3 630.0,522.5 633.7,522.5 634.2,526.7 636.7,514.2 640.0,520.3 646.7,520.0 650.3,520.0 650.8,519.6 654.5,519.6 655.0,519.2 659.5,519.2 660.0,520.0 662.8,520.0 663.3,516.7 666.7,506.7 670.0,519.2 673.3,519.7 676.2,519.7 676.7,523.3 681.2,523.3 681.7,526.7 686.2,526.7 686.7,530.0 689.5,530.0 690.0,533.3 692.8,533.3 693.3,535.0 697.0,535.0 697.5,532.5 698.3,531.7 699.2,565.0 703.7,565.0 704.2,567.5 705.8,560.8 708.3,546.7 709.2,547.5 713.7,547.5 714.2,546.7 715.8,538.3 716.7,524.2 718.7,524.2 719.2,521.7 720.8,510.0 722.5,505.8 727.5,505.3 729.2,501.7 730.8,505.8 735.3,505.8 735.8,504.2 737.8,504.2 738.3,501.7 740.3,501.7 740.8,502.5 742.5,493.3 747.8,493.3 748.3,492.5 750.0,488.3 752.5,495.0 754.5,495.0 755.0,493.3 757.5,488.3 761.2,488.3 761.7,487.5 763.3,483.3 766.2,483.3 766.7,484.2 768.3,481.7 771.7,476.7 772.8,476.7 773.3,478.3 775.0,490.0 777.5,481.7 780.8,471.7 782.8,471.7 783.3,473.3 786.2,473.3 786.7,476.7 788.3,480.0 790.8,486.7 792.8,486.7 793.3,484.2 795.3,484.2 795.8,486.7 797.8,486.7 798.3,485.8 800.8,478.3 802.5,456.7 805.0,461.7 806.7,456.7 809.5,456.7 810.0,455.0 811.2,455.0 811.7,453.3 812.5,432.5 816.7,432.5 818.3,427.5 820.0,433.3 822.8,433.3 823.3,434.2 826.2,434.2 826.7,436.7 829.5,436.7 830.0,438.3 831.7,435.8 832.5,440.0 834.2,455.0 840.0,455.0 841.7,443.3 844.5,443.3 845.0,445.8 847.8,445.8 848.3,446.7 851.2,446.7 851.7,448.3 853.3,455.8 857.8,455.8 858.3,456.7 860.8,460.8 861.7,453.3 865.0,453.3 867.5,458.3 869.2,451.7 871.7,456.7 872.5,468.3 875.0,473.3 875.8,478.3 878.7,478.3 879.2,481.7 880.0,501.7 881.7,511.7 884.2,511.7 885.0,524.2 888.3,528.3 890.0,524.2 892.8,524.2 893.3,525.0 895.0,541.7 896.7,527.5 897.8,527.5 898.3,529.2 900.8,556.7 903.3,546.7 904.5,546.7 905.0,545.8 906.7,552.5 909.2,552.5 910.8,538.3 912.5,538.3 914.2,550.8 916.7,539.2 919.5,539.2 920.0,535.8 922.8,535.8 923.3,539.2 927.8,539.2 928.3,538.3 929.2,530.0 933.3,530.0 936.7,565.0 939.5,565.0 940.0,566.7 942.8,566.7 943.3,565.8 946.7,575.0 950.0,585.0 952.8,585.0 953.3,581.7 956.7,591.7 961.2,591.7 961.7,596.7 963.3,608.3 965.0,588.3 968.3,595.0 971.2,595.0 971.7,596.7 975.0,603.3 976.7,610.0 977.5,578.3 981.7,572.5 983.3,586.7 986.2,586.7 986.7,590.0 990.0,595.0 991.7,580.0 994.5,580.0 995.0,579.2 995.8,586.7 998.3,581.7 1001.2,581.7 1001.7,585.0 1006.7,585.0 1009.5,585.0 1010.0,588.3 1012.8,588.3 1013.3,585.8 1016.7,592.5 1018.3,582.5 1021.2,582.5 1021.7,581.7 1025.0,585.8 1027.8,585.8 1028.3,588.3 1030.0,584.2 1032.8,584.2 1033.3,586.7 1036.2,586.7 1036.7,583.3 1040.0,590.0 1046.2,590.0 1046.7,592.5 1050.0,586.7 1051.7,576.7 1055.0,561.7 1058.3,550.0 1064.2,550.0 1066.7,545.0 1071.7,538.3 1072.5,535.0 1075.0,538.3 1075.8,530.0 1076.7,520.0 1077.5,500.0 1080.0,500.0 1080.0,524.2 1087.5,524.2 1090.0,520.0 1090.8,511.7 1092.8,511.7 1093.3,510.0 1094.2,493.3 1095.8,477.5 1097.5,470.0 1099.2,458.3 1101.7,468.3 1105.8,468.3 1106.7,460.8 1110.8,460.8 1111.7,458.3 1113.7,458.3 1114.2,460.0 1117.0,460.0 1117.5,458.3 1118.3,447.5 1125.0,447.5 1125.8,420.0 1128.3,410.8 1129.2,395.0 1130.0,387.5 1132.8,387.5 1133.3,385.8 1135.8,381.7 1139.5,381.7 1140.0,380.8 1142.0,380.8 1142.5,378.3 1144.2,390.0 1145.0,381.7 1147.8,381.7 1148.3,378.3 1151.7,378.3 1154.5,378.3 1155.0,375.0 1155.8,366.7 1157.5,366.7 1159.2,372.5 1160.0,366.7 1165.0,366.7 1167.8,366.7 1168.3,365.0 1173.3,365.0 1175.0,375.8 1175.8,365.0 1176.7,359.2 1177.5,344.2 1179.2,338.3 1181.7,333.3 1186.7,333.3 1187.5,321.7 1189.5,321.7 1190.0,322.5 1192.8,322.5 1193.3,325.8 1195.3,325.8 1195.8,324.2 1198.3,320.0 1200.0,345.8 1206.2,345.8 1206.7,343.3 1209.2,350.8 1211.7,354.2 1215.0,347.5 1216.7,350.0 1218.3,346.7 1221.7,341.7 1224.5,341.7 1225.0,345.0 1231.7,345.0 1234.5,345.0 1235.0,342.5 1238.3,346.7 1241.2,346.7 1241.7,344.2 1244.5,344.2 1245.0,347.5 1247.8,347.5 1248.3,348.3 1250.0,352.5 1251.7,344.2 1253.7,344.2 1254.2,342.5 1257.0,342.5 1257.5,343.3 1262.5,343.3 1263.3,330.8 1266.2,330.8 1266.7,330.0 1269.5,330.0 1270.0,327.5 1274.5,327.5 1275.0,328.3 1279.5,328.3 1280.0,326.7 1282.8,326.7 1283.3,323.3 1285.8,323.3 1288.7,323.3 1289.2,326.7 1290.0,374.2 1293.3,374.2 1295.0,378.3 1297.8,378.3 1298.3,376.7 1302.5,376.7 1305.0,372.5 1306.7,376.7 1309.5,376.7 1310.0,375.0 1314.5,375.0 1315.0,374.2 1316.2,374.2 1316.7,372.5 1319.5,372.5 1320.0,374.2 1321.2,374.2 1321.7,373.3 1323.3,370.8 1327.8,370.8 1328.3,370.0 1332.8,370.0 1333.3,368.3 1336.2,368.3 1336.7,366.7 1341.2,366.7 1341.7,365.0 1346.2,365.0 1346.7,361.7 1349.5,361.7 1350.0,359.2 1356.2,359.2 1356.7,358.3 1358.3,356.3 1361.2,356.3 1361.7,357.5 1364.5,357.5 1365.0,355.0 1369.5,355.0 1370.0,353.3 1376.2,353.3 1376.7,351.7 1382.8,351.7 1383.3,350.8 1389.5,350.8 1390.0,349.2 1392.8,349.2 1393.3,348.3 1405.0,348.0 1411.2,348.0 1411.7,344.2 1415.3,344.2 1415.8,343.3 1419.5,343.3 1420.0,342.5 1426.2,342.5 1426.7,341.7 1427.8,341.7 1428.3,343.3 1433.3,342.8 1438.3,343.3 1442.8,343.3 1443.3,342.5 1459.2,342.5 1460.0,339.7 1466.2,339.7 1466.7,338.3 1469.5,338.3 1470.0,339.2 1472.8,339.2 1473.3,338.3 1479.5,338.3 1480.0,337.5 1481.7,335.0 1484.5,335.0 1485.0,336.3 1488.7,336.3 1489.2,333.6 1492.8,333.6 1493.3,330.8 1499.5,330.8 1500.0,330.0 1501.7,326.7 1504.5,326.7 1505.0,328.3 1507.8,328.3 1508.3,326.7 1512.8,326.7 1513.3,325.8 1519.5,325.8 1520.0,325.0 1526.2,325.0 1526.7,324.2 1535.0,323.7 1541.7,323.7 1543.3,321.7 1547.8,321.7 1548.3,320.0 1552.8,320.0 1553.3,316.7 1559.5,316.7 1560.0,315.0 1563.7,315.0 1564.2,313.8 1567.8,313.8 1568.3,312.5 1571.2,312.5 1571.7,310.8 1575.3,310.8 1575.8,310.4 1579.5,310.4 1580.0,310.0 1581.7,310.0 1583.3,312.5 1587.8,312.5 1588.3,311.7 1592.8,311.7 1593.3,306.7 1596.2,306.7 1596.7,305.0 1601.2,305.0 1601.7,304.2 1604.5,304.2 1605.0,301.7 1609.5,301.7 1610.0,300.8 1614.5,300.8 1615.0,300.0 1616.7,307.5 1618.3,297.5 1622.8,297.5 1623.3,296.7 1625.0,294.2 1629.5,294.2 1630.0,293.3 1631.0,293.3 1632.0,407.0 1633.0,373.3 1636.2,373.3 1636.7,375.0 1640.0,370.8 1643.3,366.7 1646.7,359.2 1650.3,359.2 1650.8,358.3 1653.3,340.8 1657.8,340.8 1658.3,336.7 1660.8,340.0 1662.5,353.3 1664.2,340.8 1666.7,337.5 1671.2,337.5 1671.7,340.0 1676.7,331.7 1678.3,321.7 1679.5,321.7 1680.0,320.0 1682.8,320.0 1683.3,319.2 1686.7,312.5 1690.0,312.5 1692.8,312.5 1693.3,315.0 1695.1,315.0 1695.6,313.9 1697.8,318.3 1699.4,315.8 1701.2,315.8 1701.7,315.1 1702.8,315.1 1703.3,315.8 1704.2,317.2" stroke="#0000ff" stroke-width="2.2" fill="none" stroke-linejoin="round"/><path d="M77.5,566.0 82.5,565.7 83.0,555.2 89.5,555.2 90.0,554.4 96.2,554.4 96.7,552.7 97.5,549.4 103.3,549.0 104.2,540.2 111.3,539.9 111.7,519.4 117.5,519.0 118.3,499.4 123.3,499.0 123.3,470.2 130.8,469.9 134.2,459.4 136.2,459.4 136.7,457.4 141.2,457.4 141.7,455.2 143.7,455.2 144.2,457.7 147.8,457.7 148.3,456.4 148.7,420.7 155.0,420.2 158.7,420.2 159.2,418.9 162.8,418.9 163.3,417.7 169.5,417.7 170.0,415.7 176.2,415.7 176.7,416.4 182.8,416.4 183.3,411.4 189.5,411.4 190.0,409.4 196.2,409.4 196.7,408.0 201.2,408.0 201.7,411.0 204.5,411.0 205.0,408.0 211.2,408.0 211.7,406.9 216.2,406.9 216.7,405.7 222.8,405.7 223.3,404.9 226.2,404.9 226.7,404.0 232.8,404.0 233.3,404.7 239.5,404.7 240.0,404.0 242.8,404.0 243.3,406.0 247.8,406.0 248.3,409.7 252.8,409.7 253.3,407.7 257.8,407.7 258.3,406.9 261.7,411.9 266.7,412.4 273.0,411.9 273.3,446.0 277.5,445.7 280.0,442.4 286.2,442.4 286.7,441.4 288.3,446.0 290.8,454.4 293.3,448.5 297.8,448.5 298.3,446.9 301.7,442.7 305.0,437.7 311.2,437.7 311.7,441.0 314.5,441.0 315.0,437.7 319.5,437.7 320.0,436.9 326.2,436.9 326.7,432.7 331.7,432.4 334.5,432.4 335.0,429.4 341.2,429.4 341.7,426.9 346.2,426.9 346.7,428.5 350.0,429.0 351.7,442.7 353.3,447.7 357.8,447.7 358.3,450.7 361.7,456.0 362.5,466.0 366.2,466.0 366.7,466.9 370.0,479.4 370.8,482.7 371.7,516.0 374.5,516.0 375.0,513.5 376.7,529.4 378.3,552.7 381.7,558.1 386.2,558.1 386.7,561.5 390.0,571.5 392.8,571.5 393.3,573.1 399.5,573.1 400.0,576.5 404.2,571.5 409.5,571.5 410.0,564.8 413.7,564.8 414.2,564.0 417.8,564.0 418.3,563.1 430.0,563.1 436.7,553.1 441.2,553.1 441.7,554.0 444.2,566.5 447.8,566.5 448.3,563.1 451.7,573.1 453.3,534.8 459.5,534.8 460.0,531.5 463.3,536.5 470.0,553.1 474.5,553.1 475.0,556.5 479.5,556.5 480.0,559.8 486.7,571.5 491.2,571.5 491.7,569.8 496.2,569.8 496.7,568.1 502.8,568.1 503.3,569.8 508.3,556.5 514.5,556.5 515.0,558.1 518.3,566.5 522.0,566.5 522.5,568.1 526.2,568.1 526.7,569.8 531.2,569.8 531.7,573.1 536.2,573.1 536.7,576.5 542.0,576.5 542.5,579.0 547.8,579.0 548.3,581.5 550.0,586.0 550.8,597.7 556.2,597.7 556.7,596.9 559.5,596.9 560.0,599.4 564.5,599.4 565.0,601.9 567.8,601.9 568.3,599.4 574.5,599.4 575.0,598.5 581.2,598.5 581.7,595.2 586.2,595.2 586.7,594.4 590.0,589.0 591.7,595.2 598.3,594.7 601.7,602.7 607.8,602.7 608.3,600.2 608.3,591.9 610.0,596.9 612.8,596.9 613.3,594.4 619.5,594.4 620.0,595.2 622.8,595.2 623.3,594.4 626.2,594.4 626.7,597.7 630.0,601.9 633.7,601.9 634.2,606.0 636.7,593.5 640.0,599.7 646.7,599.4 650.3,599.4 650.8,598.9 654.5,598.9 655.0,598.5 659.5,598.5 660.0,599.4 662.8,599.4 663.3,596.0 666.7,586.0 670.0,598.5 673.3,599.0 676.2,599.0 676.7,602.7 681.2,602.7 681.7,606.0 686.2,606.0 686.7,609.4 689.5,609.4 690.0,612.7 692.8,612.7 693.3,614.4 697.0,614.4 697.5,611.9 698.3,611.0 699.2,644.4 703.7,644.4 704.2,646.9 705.8,640.2 708.3,626.0 709.2,626.9 713.7,626.9 714.2,626.0 715.8,617.7 716.7,603.5 718.7,603.5 719.2,601.0 720.8,589.4 722.5,585.2 727.5,584.7 729.2,581.0 730.8,585.2 735.3,585.2 735.8,583.5 737.8,583.5 738.3,581.0 740.3,581.0 740.8,581.9 742.5,572.7 747.8,572.7 748.3,571.9 750.0,567.7 752.5,574.4 754.5,574.4 755.0,572.7 757.5,567.7 761.2,567.7 761.7,566.9 763.3,562.7 766.2,562.7 766.7,563.5 768.3,561.0 771.7,556.0 772.8,556.0 773.3,557.7 775.0,569.4 777.5,561.0 780.8,551.0 782.8,551.0 783.3,552.7 786.2,552.7 786.7,556.0 788.3,559.4 790.8,566.0 792.8,566.0 793.3,563.5 795.3,563.5 795.8,566.0 797.8,566.0 798.3,565.2 800.8,557.7 802.5,536.0 805.0,541.0 806.7,536.0 809.5,536.0 810.0,534.4 811.2,534.4 811.7,532.7 812.5,511.9 816.7,511.9 818.3,506.9 820.0,512.7 822.8,512.7 823.3,513.5 826.2,513.5 826.7,516.0 829.5,516.0 830.0,517.7 831.7,515.2 832.5,519.4 834.2,534.4 840.0,534.4 841.7,522.7 844.5,522.7 845.0,525.2 847.8,525.2 848.3,526.0 851.2,526.0 851.7,527.7 853.3,535.2 857.8,535.2 858.3,536.0 860.8,540.2 861.7,532.7 865.0,532.7 867.5,537.7 869.2,531.0 871.7,536.0 872.5,547.7 875.0,552.7 875.8,557.7 878.7,557.7 879.2,561.0 880.0,581.0 881.7,591.0 884.2,591.0 885.0,603.5 888.3,607.7 890.0,603.5 892.8,603.5 893.3,604.4 895.0,621.0 896.7,606.9 897.8,606.9 898.3,608.5 900.8,636.0 903.3,626.0 904.5,626.0 905.0,625.2 906.7,631.9 909.2,631.9 910.8,617.7 912.5,617.7 914.2,630.2 916.7,618.5 919.5,618.5 920.0,615.2 922.8,615.2 923.3,618.5 927.8,618.5 928.3,617.7 929.2,609.4 933.3,609.4 936.7,644.4 939.5,644.4 940.0,646.0 942.8,646.0 943.3,645.2 946.7,654.4 950.0,664.4 952.8,664.4 953.3,661.0 956.7,671.0 961.2,671.0 961.7,676.0 963.3,687.7 965.0,667.7 968.3,674.4 971.2,674.4 971.7,676.0 975.0,682.7 976.7,689.4 977.5,657.7 981.7,651.9 983.3,666.0 986.2,666.0 986.7,669.4 990.0,674.4 991.7,659.4 994.5,659.4 995.0,658.5 995.8,666.0 998.3,661.0 1001.2,661.0 1001.7,664.4 1006.7,664.4 1009.5,664.4 1010.0,667.7 1012.8,667.7 1013.3,665.2 1016.7,671.9 1018.3,661.9 1021.2,661.9 1021.7,661.0 1025.0,665.2 1027.8,665.2 1028.3,667.7 1030.0,663.5 1032.8,663.5 1033.3,666.0 1036.2,666.0 1036.7,662.7 1040.0,669.4 1046.2,669.4 1046.7,671.9 1050.0,666.0 1051.7,656.0 1055.0,641.0 1058.3,629.4 1064.2,629.4 1066.7,624.4 1071.7,617.7 1072.5,614.4 1075.0,617.7 1075.8,609.4 1076.7,599.4 1077.5,579.4 1080.0,579.4 1080.0,603.5 1087.5,603.5 1090.0,599.4 1090.8,591.0 1092.8,591.0 1093.3,589.4 1094.2,572.7 1095.8,556.9 1097.5,549.4 1099.2,537.7 1101.7,547.7 1105.8,547.7 1106.7,540.2 1110.8,540.2 1111.7,537.7 1113.7,537.7 1114.2,539.4 1117.0,539.4 1117.5,537.7 1118.3,526.9 1125.0,526.9 1125.8,499.4 1128.3,490.2 1129.2,474.4 1130.0,466.9 1132.8,466.9 1133.3,465.2 1135.8,461.0 1139.5,461.0 1140.0,460.2 1142.0,460.2 1142.5,457.7 1144.2,469.4 1145.0,461.0 1147.8,461.0 1148.3,457.7 1151.7,457.7 1154.5,457.7 1155.0,454.4 1155.8,446.0 1157.5,446.0 1159.2,451.9 1160.0,446.0 1165.0,446.0 1167.8,446.0 1168.3,444.4 1173.3,444.4 1175.0,455.2 1175.8,444.4 1176.7,438.5 1177.5,423.5 1179.2,417.7 1181.7,412.7 1186.7,412.7 1187.5,401.0 1189.5,401.0 1190.0,401.9 1192.8,401.9 1193.3,405.2 1195.3,405.2 1195.8,403.5 1198.3,399.4 1200.0,425.2 1206.2,425.2 1206.7,422.7 1209.2,430.2 1211.7,433.5 1215.0,426.9 1216.7,429.4 1218.3,426.0 1221.7,421.0 1224.5,421.0 1225.0,424.4 1231.7,424.4 1234.5,424.4 1235.0,421.9 1238.3,426.0 1241.2,426.0 1241.7,423.5 1244.5,423.5 1245.0,426.9 1247.8,426.9 1248.3,427.7 1250.0,431.9 1251.7,423.5 1253.7,423.5 1254.2,421.9 1257.0,421.9 1257.5,422.7 1262.5,422.7 1263.3,410.2 1266.2,410.2 1266.7,409.4 1269.5,409.4 1270.0,406.9 1274.5,406.9 1275.0,407.7 1279.5,407.7 1280.0,406.0 1282.8,406.0 1283.3,402.7 1285.8,402.7 1288.7,402.7 1289.2,406.0 1290.0,453.5 1293.3,453.5 1295.0,457.7 1297.8,457.7 1298.3,456.0 1302.5,456.0 1305.0,451.9 1306.7,456.0 1309.5,456.0 1310.0,454.4 1314.5,454.4 1315.0,453.5 1316.2,453.5 1316.7,451.9 1319.5,451.9 1320.0,453.5 1321.2,453.5 1321.7,452.7 1323.3,450.2 1327.8,450.2 1328.3,449.4 1332.8,449.4 1333.3,447.7 1336.2,447.7 1336.7,446.0 1341.2,446.0 1341.7,444.4 1346.2,444.4 1346.7,441.0 1349.5,441.0 1350.0,438.5 1356.2,438.5 1356.7,437.7 1358.3,435.7 1361.2,435.7 1361.7,436.9 1364.5,436.9 1365.0,434.4 1369.5,434.4 1370.0,432.7 1376.2,432.7 1376.7,431.0 1382.8,431.0 1383.3,430.2 1389.5,430.2 1390.0,428.5 1392.8,428.5 1393.3,427.7 1405.0,427.4 1411.2,427.4 1411.7,423.5 1415.3,423.5 1415.8,422.7 1419.5,422.7 1420.0,421.9 1426.2,421.9 1426.7,421.0 1427.8,421.0 1428.3,422.7 1433.3,422.2 1438.3,422.7 1442.8,422.7 1443.3,421.9 1459.2,421.9 1460.0,419.0 1466.2,419.0 1466.7,417.7 1469.5,417.7 1470.0,418.5 1472.8,418.5 1473.3,417.7 1479.5,417.7 1480.0,416.9 1481.7,414.4 1484.5,414.4 1485.0,415.7 1488.7,415.7 1489.2,412.9 1492.8,412.9 1493.3,410.2 1499.5,410.2 1500.0,409.4 1501.7,406.0 1504.5,406.0 1505.0,407.7 1507.8,407.7 1508.3,406.0 1512.8,406.0 1513.3,405.2 1519.5,405.2 1520.0,404.4 1526.2,404.4 1526.7,403.5 1535.0,403.0 1541.7,403.0 1543.3,401.0 1547.8,401.0 1548.3,399.4 1552.8,399.4 1553.3,396.0 1559.5,396.0 1560.0,394.4 1563.7,394.4 1564.2,393.1 1567.8,393.1 1568.3,391.9 1571.2,391.9 1571.7,390.2 1575.3,390.2 1575.8,389.8 1579.5,389.8 1580.0,389.4 1581.7,389.4 1583.3,391.9 1587.8,391.9 1588.3,391.0 1592.8,391.0 1593.3,386.0 1596.2,386.0 1596.7,384.4 1601.2,384.4 1601.7,383.5 1604.5,383.5 1605.0,381.0 1609.5,381.0 1610.0,380.2 1614.5,380.2 1615.0,379.4 1616.7,386.9 1618.3,376.9 1622.8,376.9 1623.3,376.0 1625.0,373.5 1629.5,373.5 1630.0,372.7 1631.0,372.7 1632.0,486.4 1633.0,452.7 1636.2,452.7 1636.7,454.4 1640.0,450.2 1643.3,446.0 1646.7,438.5 1650.3,438.5 1650.8,437.7 1653.3,420.2 1657.8,420.2 1658.3,416.0 1660.8,419.4 1662.5,432.7 1664.2,420.2 1666.7,416.9 1671.2,416.9 1671.7,419.4 1676.7,411.0 1678.3,401.0 1679.5,401.0 1680.0,399.4 1682.8,399.4 1683.3,398.5 1686.7,391.9 1690.0,391.9 1692.8,391.9 1693.3,394.4 1695.1,394.4 1695.6,393.2 1697.8,397.7 1699.4,395.2 1701.2,395.2 1701.7,394.5 1702.8,394.5 1703.3,395.2 1704.2,396.6" stroke="#0000ff" stroke-width="2.2" fill="none" stroke-linejoin="round"/><path d="M77.5,677.9 82.5,677.5 83.0,667.0 89.5,667.0 90.0,666.2 96.2,666.2 96.7,664.5 97.5,661.2 103.3,660.9 104.2,652.0 111.3,651.7 111.7,631.2 117.5,630.9 118.3,611.2 123.3,610.9 123.3,582.0 130.8,581.7 134.2,571.2 136.2,571.2 136.7,569.2 141.2,569.2 141.7,567.0 143.7,567.0 144.2,569.5 147.8,569.5 148.3,568.2 148.7,532.5 155.0,532.0 158.7,532.0 159.2,530.8 162.8,530.8 163.3,529.5 169.5,529.5 170.0,527.5 176.2,527.5 176.7,528.2 182.8,528.2 183.3,523.2 189.5,523.2 190.0,521.2 196.2,521.2 196.7,519.9 201.2,519.9 201.7,522.9 204.5,522.9 205.0,519.9 211.2,519.9 211.7,518.7 216.2,518.7 216.7,517.5 222.8,517.5 223.3,516.7 226.2,516.7 226.7,515.9 232.8,515.9 233.3,516.5 239.5,516.5 240.0,515.9 242.8,515.9 243.3,517.9 247.8,517.9 248.3,521.5 252.8,521.5 253.3,519.5 257.8,519.5 258.3,518.7 261.7,523.7 266.7,524.2 273.0,523.7 273.3,557.9 277.5,557.5 280.0,554.2 286.2,554.2 286.7,553.2 288.3,557.9 290.8,566.2 293.3,560.4 297.8,560.4 298.3,558.7 301.7,554.5 305.0,549.5 311.2,549.5 311.7,552.9 314.5,552.9 315.0,549.5 319.5,549.5 320.0,548.7 326.2,548.7 326.7,544.5 331.7,544.2 334.5,544.2 335.0,541.2 341.2,541.2 341.7,538.7 346.2,538.7 346.7,540.4 350.0,540.9 351.7,554.5 353.3,559.5 357.8,559.5 358.3,562.5 361.7,567.9 362.5,577.9 366.2,577.9 366.7,578.7 370.0,591.2 370.8,594.5 371.7,627.9 374.5,627.9 375.0,625.4 376.7,641.2 378.3,664.5 381.7,670.0 386.2,670.0 386.7,673.3 390.0,683.3 392.8,683.3 393.3,685.0 399.5,685.0 400.0,688.3 404.2,683.3 409.5,683.3 410.0,676.7 413.7,676.7 414.2,675.8 417.8,675.8 418.3,675.0 430.0,675.0 436.7,665.0 441.2,665.0 441.7,665.8 444.2,678.3 447.8,678.3 448.3,675.0 451.7,685.0 453.3,646.7 459.5,646.7 460.0,643.3 463.3,648.3 470.0,665.0 474.5,665.0 475.0,668.3 479.5,668.3 480.0,671.7 486.7,683.3 491.2,683.3 491.7,681.7 496.2,681.7 496.7,680.0 502.8,680.0 503.3,681.7 508.3,668.3 514.5,668.3 515.0,670.0 518.3,678.3 522.0,678.3 522.5,680.0 526.2,680.0 526.7,681.7 531.2,681.7 531.7,685.0 536.2,685.0 536.7,688.3 542.0,688.3 542.5,690.8 547.8,690.8 548.3,693.3 550.0,697.9 550.8,709.5 556.2,709.5 556.7,708.7 559.5,708.7 560.0,711.2 564.5,711.2 565.0,713.7 567.8,713.7 568.3,711.2 574.5,711.2 575.0,710.4 581.2,710.4 581.7,707.0 586.2,707.0 586.7,706.2 590.0,700.9 591.7,707.0 598.3,706.5 601.7,714.5 607.8,714.5 608.3,712.0 608.3,703.7 610.0,708.7 612.8,708.7 613.3,706.2 619.5,706.2 620.0,707.0 622.8,707.0 623.3,706.2 626.2,706.2 626.7,709.5 630.0,713.7 633.7,713.7 634.2,717.9 636.7,705.4 640.0,711.5 646.7,711.2 650.3,711.2 650.8,710.8 654.5,710.8 655.0,710.4 659.5,710.4 660.0,711.2 662.8,711.2 663.3,707.9 666.7,697.9 670.0,710.4 673.3,710.9 676.2,710.9 676.7,714.5 681.2,714.5 681.7,717.9 686.2,717.9 686.7,721.2 689.5,721.2 690.0,724.5 692.8,724.5 693.3,726.2 697.0,726.2 697.5,723.7 698.3,722.9 699.2,756.2 703.7,756.2 704.2,758.7 705.8,752.0 708.3,737.9 709.2,738.7 713.7,738.7 714.2,737.9 715.8,729.5 716.7,715.4 718.7,715.4 719.2,712.9 720.8,701.2 722.5,697.0 727.5,696.5 729.2,692.9 730.8,697.0 735.3,697.0 735.8,695.4 737.8,695.4 738.3,692.9 740.3,692.9 740.8,693.7 742.5,684.5 747.8,684.5 748.3,683.7 750.0,679.5 752.5,686.2 754.5,686.2 755.0,684.5 757.5,679.5 761.2,679.5 761.7,678.7 763.3,674.5 766.2,674.5 766.7,675.4 768.3,672.9 771.7,667.9 772.8,667.9 773.3,669.5 775.0,681.2 777.5,672.9 780.8,662.9 782.8,662.9 783.3,664.5 786.2,664.5 786.7,667.9 788.3,671.2 790.8,677.9 792.8,677.9 793.3,675.4 795.3,675.4 795.8,677.9 797.8,677.9 798.3,677.0 800.8,669.5 802.5,647.9 805.0,652.9 806.7,647.9 809.5,647.9 810.0,646.2 811.2,646.2 811.7,644.5 812.5,623.7 816.7,623.7 818.3,618.7 820.0,624.5 822.8,624.5 823.3,625.4 826.2,625.4 826.7,627.9 829.5,627.9 830.0,629.5 831.7,627.0 832.5,631.2 834.2,646.2 840.0,646.2 841.7,634.5 844.5,634.5 845.0,637.0 847.8,637.0 848.3,637.9 851.2,637.9 851.7,639.5 853.3,647.0 857.8,647.0 858.3,647.9 860.8,652.0 861.7,644.5 865.0,644.5 867.5,649.5 869.2,642.9 871.7,647.9 872.5,659.5 875.0,664.5 875.8,669.5 878.7,669.5 879.2,672.9 880.0,692.9 881.7,702.9 884.2,702.9 885.0,715.4 888.3,719.5 890.0,715.4 892.8,715.4 893.3,716.2 895.0,732.9 896.7,718.7 897.8,718.7 898.3,720.4 900.8,747.9 903.3,737.9 904.5,737.9 905.0,737.0 906.7,743.7 909.2,743.7 910.8,729.5 912.5,729.5 914.2,742.0 916.7,730.4 919.5,730.4 920.0,727.0 922.8,727.0 923.3,730.4 927.8,730.4 928.3,729.5 929.2,721.2 933.3,721.2 936.7,756.2 939.5,756.2 940.0,757.9 942.8,757.9 943.3,757.0 946.7,766.2 950.0,776.2 952.8,776.2 953.3,772.9 956.7,782.9 961.2,782.9 961.7,787.9 963.3,799.5 965.0,779.5 968.3,786.2 971.2,786.2 971.7,787.9 975.0,794.5 976.7,801.2 977.5,769.5 981.7,763.7 983.3,777.9 986.2,777.9 986.7,781.2 990.0,786.2 991.7,771.2 994.5,771.2 995.0,770.4 995.8,777.9 998.3,772.9 1001.2,772.9 1001.7,776.2 1006.7,776.2 1009.5,776.2 1010.0,779.5 1012.8,779.5 1013.3,777.0 1016.7,783.7 1018.3,773.7 1021.2,773.7 1021.7,772.9 1025.0,777.0 1027.8,777.0 1028.3,779.5 1030.0,775.4 1032.8,775.4 1033.3,777.9 1036.2,777.9 1036.7,774.5 1040.0,781.2 1046.2,781.2 1046.7,783.7 1050.0,777.9 1051.7,767.9 1055.0,752.9 1058.3,741.2 1064.2,741.2 1066.7,736.2 1071.7,729.5 1072.5,726.2 1075.0,729.5 1075.8,721.2 1076.7,711.2 1077.5,691.2 1080.0,691.2 1080.0,715.4 1087.5,715.4 1090.0,711.2 1090.8,702.9 1092.8,702.9 1093.3,701.2 1094.2,684.5 1095.8,668.7 1097.5,661.2 1099.2,649.5 1101.7,659.5 1105.8,659.5 1106.7,652.0 1110.8,652.0 1111.7,649.5 1113.7,649.5 1114.2,651.2 1117.0,651.2 1117.5,649.5 1118.3,638.7 1125.0,638.7 1125.8,611.2 1128.3,602.0 1129.2,586.2 1130.0,578.7 1132.8,578.7 1133.3,577.0 1135.8,572.9 1139.5,572.9 1140.0,572.0 1142.0,572.0 1142.5,569.5 1144.2,581.2 1145.0,572.9 1147.8,572.9 1148.3,569.5 1151.7,569.5 1154.5,569.5 1155.0,566.2 1155.8,557.9 1157.5,557.9 1159.2,563.7 1160.0,557.9 1165.0,557.9 1167.8,557.9 1168.3,556.2 1173.3,556.2 1175.0,567.0 1175.8,556.2 1176.7,550.4 1177.5,535.4 1179.2,529.5 1181.7,524.5 1186.7,524.5 1187.5,512.9 1189.5,512.9 1190.0,513.7 1192.8,513.7 1193.3,517.0 1195.3,517.0 1195.8,515.4 1198.3,511.2 1200.0,537.0 1206.2,537.0 1206.7,534.5 1209.2,542.0 1211.7,545.4 1215.0,538.7 1216.7,541.2 1218.3,537.9 1221.7,532.9 1224.5,532.9 1225.0,536.2 1231.7,536.2 1234.5,536.2 1235.0,533.7 1238.3,537.9 1241.2,537.9 1241.7,535.4 1244.5,535.4 1245.0,538.7 1247.8,538.7 1248.3,539.5 1250.0,543.7 1251.7,535.4 1253.7,535.4 1254.2,533.7 1257.0,533.7 1257.5,534.5 1262.5,534.5 1263.3,522.0 1266.2,522.0 1266.7,521.2 1269.5,521.2 1270.0,518.7 1274.5,518.7 1275.0,519.5 1279.5,519.5 1280.0,517.9 1282.8,517.9 1283.3,514.5 1285.8,514.5 1288.7,514.5 1289.2,517.9 1290.0,565.4 1293.3,565.4 1295.0,569.5 1297.8,569.5 1298.3,567.9 1302.5,567.9 1305.0,563.7 1306.7,567.9 1309.5,567.9 1310.0,566.2 1314.5,566.2 1315.0,565.4 1316.2,565.4 1316.7,563.7 1319.5,563.7 1320.0,565.4 1321.2,565.4 1321.7,564.5 1323.3,562.0 1327.8,562.0 1328.3,561.2 1332.8,561.2 1333.3,559.5 1336.2,559.5 1336.7,557.9 1341.2,557.9 1341.7,556.2 1346.2,556.2 1346.7,552.9 1349.5,552.9 1350.0,550.4 1356.2,550.4 1356.7,549.5 1358.3,547.5 1361.2,547.5 1361.7,548.7 1364.5,548.7 1365.0,546.2 1369.5,546.2 1370.0,544.5 1376.2,544.5 1376.7,542.9 1382.8,542.9 1383.3,542.0 1389.5,542.0 1390.0,540.4 1392.8,540.4 1393.3,539.5 1405.0,539.2 1411.2,539.2 1411.7,535.4 1415.3,535.4 1415.8,534.5 1419.5,534.5 1420.0,533.7 1426.2,533.7 1426.7,532.9 1427.8,532.9 1428.3,534.5 1433.3,534.0 1438.3,534.5 1442.8,534.5 1443.3,533.7 1459.2,533.7 1460.0,530.9 1466.2,530.9 1466.7,529.5 1469.5,529.5 1470.0,530.4 1472.8,530.4 1473.3,529.5 1479.5,529.5 1480.0,528.7 1481.7,526.2 1484.5,526.2 1485.0,527.5 1488.7,527.5 1489.2,524.8 1492.8,524.8 1493.3,522.0 1499.5,522.0 1500.0,521.2 1501.7,517.9 1504.5,517.9 1505.0,519.5 1507.8,519.5 1508.3,517.9 1512.8,517.9 1513.3,517.0 1519.5,517.0 1520.0,516.2 1526.2,516.2 1526.7,515.4 1535.0,514.9 1541.7,514.9 1543.3,512.9 1547.8,512.9 1548.3,511.2 1552.8,511.2 1553.3,507.9 1559.5,507.9 1560.0,506.2 1563.7,506.2 1564.2,505.0 1567.8,505.0 1568.3,503.7 1571.2,503.7 1571.7,502.0 1575.3,502.0 1575.8,501.6 1579.5,501.6 1580.0,501.2 1581.7,501.2 1583.3,503.7 1587.8,503.7 1588.3,502.9 1592.8,502.9 1593.3,497.9 1596.2,497.9 1596.7,496.2 1601.2,496.2 1601.7,495.4 1604.5,495.4 1605.0,492.9 1609.5,492.9 1610.0,492.0 1614.5,492.0 1615.0,491.2 1616.7,498.7 1618.3,488.7 1622.8,488.7 1623.3,487.9 1625.0,485.4 1629.5,485.4 1630.0,484.5 1631.0,484.5 1632.0,598.2 1633.0,564.5 1636.2,564.5 1636.7,566.2 1640.0,562.0 1643.3,557.9 1646.7,550.4 1650.3,550.4 1650.8,549.5 1653.3,532.0 1657.8,532.0 1658.3,527.9 1660.8,531.2 1662.5,544.5 1664.2,532.0 1666.7,528.7 1671.2,528.7 1671.7,531.2 1676.7,522.9 1678.3,512.9 1679.5,512.9 1680.0,511.2 1682.8,511.2 1683.3,510.4 1686.7,503.7 1690.0,503.7 1692.8,503.7 1693.3,506.2 1695.1,506.2 1695.6,505.1 1697.8,509.5 1699.4,507.0 1701.2,507.0 1701.7,506.3 1702.8,506.3 1703.3,507.0 1704.2,508.4" stroke="#0000ff" stroke-width="2.2" fill="none" stroke-linejoin="round"/>
<rect x="72.5" y="46.9" width="1776.0" height="915.0" fill="none" stroke="#000" stroke-width="4.6" stroke-linejoin="round"/>
<path d="M63 962.0H71 M1850 962.0H1858 M63 850.1H71 M1850 850.1H1858 M63 770.8H71 M1850 770.8H1858 M63 709.2H71 M1850 709.2H1858 M63 658.9H71 M1850 658.9H1858 M63 616.4H71 M1850 616.4H1858 M63 579.6H71 M1850 579.6H1858 M63 547.1H71 M1850 547.1H1858 M63 518.0H71 M1850 518.0H1858 M63 326.8H71 M1850 326.8H1858 M63 214.9H71 M1850 214.9H1858 M63 135.6H71 M1850 135.6H1858 M63 74.0H71 M1850 74.0H1858 M67 934.9H71 M1850 934.9H1854 M67 910.9H71 M1850 910.9H1854 M67 888.8H71 M1850 888.8H1854 M67 868.4H71 M1850 868.4H1854 M67 831.5H71 M1850 831.5H1854 M67 814.8H71 M1850 814.8H1854 M67 799.1H71 M1850 799.1H1854 M67 784.1H71 M1850 784.1H1854 M67 756.5H71 M1850 756.5H1854 M67 743.7H71 M1850 743.7H1854 M67 731.4H71 M1850 731.4H1854 M67 719.7H71 M1850 719.7H1854 M67 697.6H71 M1850 697.6H1854 M67 687.2H71 M1850 687.2H1854 M67 677.2H71 M1850 677.2H1854 M67 667.5H71 M1850 667.5H1854 M67 649.1H71 M1850 649.1H1854 M67 640.3H71 M1850 640.3H1854 M67 631.8H71 M1850 631.8H1854 M67 623.6H71 M1850 623.6H1854 M67 607.8H71 M1850 607.8H1854 M67 600.3H71 M1850 600.3H1854 M67 592.9H71 M1850 592.9H1854 M67 585.8H71 M1850 585.8H1854 M67 572.0H71 M1850 572.0H1854 M67 565.3H71 M1850 565.3H1854 M67 558.8H71 M1850 558.8H1854 M67 552.5H71 M1850 552.5H1854 M67 540.2H71 M1850 540.2H1854 M67 534.3H71 M1850 534.3H1854 M67 528.5H71 M1850 528.5H1854 M67 522.8H71 M1850 522.8H1854 M67 466.9H71 M1850 466.9H1854 M67 424.4H71 M1850 424.4H1854 M67 387.6H71 M1850 387.6H1854 M67 355.1H71 M1850 355.1H1854 M67 299.7H71 M1850 299.7H1854 M67 275.7H71 M1850 275.7H1854 M67 253.6H71 M1850 253.6H1854 M67 233.2H71 M1850 233.2H1854 M67 196.3H71 M1850 196.3H1854 M67 179.6H71 M1850 179.6H1854 M67 163.9H71 M1850 163.9H1854 M67 148.9H71 M1850 148.9H1854 M67 121.3H71 M1850 121.3H1854 M67 108.5H71 M1850 108.5H1854 M67 96.2H71 M1850 96.2H1854 M67 84.5H71 M1850 84.5H1854 M67 62.4H71 M1850 62.4H1854 M67 52.0H71 M1850 52.0H1854 M86.5 963V967 M107.0 963V967 M127.5 963V971.5 M148.0 963V967 M168.5 963V967 M189.0 963V967 M209.5 963V967 M230.0 963V967 M250.5 963V967 M271.0 963V967 M291.5 963V971.5 M312.0 963V967 M332.5 963V967 M353.0 963V967 M373.5 963V967 M394.0 963V967 M414.5 963V967 M435.0 963V967 M455.5 963V971.5 M476.0 963V967 M496.5 963V967 M517.0 963V967 M537.5 963V967 M558.0 963V967 M578.5 963V967 M599.0 963V967 M619.5 963V971.5 M640.0 963V967 M660.5 963V967 M681.0 963V967 M701.5 963V967 M722.0 963V967 M742.5 963V967 M763.0 963V967 M783.5 963V971.5 M804.0 963V967 M824.5 963V967 M845.0 963V967 M865.5 963V967 M886.0 963V967 M906.5 963V967 M927.0 963V967 M947.5 963V971.5 M968.0 963V967 M988.5 963V967 M1009.0 963V967 M1029.5 963V967 M1050.0 963V967 M1070.5 963V967 M1091.0 963V967 M1111.5 963V971.5 M1132.0 963V967 M1152.5 963V967 M1173.0 963V967 M1193.5 963V967 M1214.0 963V967 M1234.5 963V967 M1255.0 963V967 M1275.5 963V971.5 M1296.0 963V967 M1316.5 963V967 M1337.0 963V967 M1357.5 963V967 M1378.0 963V967 M1398.5 963V967 M1419.0 963V967 M1439.5 963V971.5 M1460.0 963V967 M1480.5 963V967 M1501.0 963V967 M1521.5 963V967 M1542.0 963V967 M1562.5 963V967 M1583.0 963V967 M1603.5 963V971.5 M1624.0 963V967 M1644.5 963V967 M1665.0 963V967 M1685.5 963V967 M1706.0 963V967 M1726.5 963V967 M1747.0 963V967 M1767.5 963V971.5 M1788.0 963V967 M1808.5 963V967 M1829.0 963V967" stroke="#000" stroke-width="1.6" fill="none"/>
<text x="54" y="967.5" font-size="24" text-anchor="end">20</text>
<text x="1866" y="967.5" font-size="24">20</text>
<text x="54" y="855.6" font-size="24" text-anchor="end">30</text>
<text x="1866" y="855.6" font-size="24">30</text>
<text x="54" y="776.3" font-size="24" text-anchor="end">40</text>
<text x="1866" y="776.3" font-size="24">40</text>
<text x="54" y="714.7" font-size="24" text-anchor="end">50</text>
<text x="1866" y="714.7" font-size="24">50</text>
<text x="54" y="664.4" font-size="24" text-anchor="end">60</text>
<text x="1866" y="664.4" font-size="24">60</text>
<text x="54" y="621.9" font-size="24" text-anchor="end">70</text>
<text x="1866" y="621.9" font-size="24">70</text>
<text x="54" y="585.1" font-size="24" text-anchor="end">80</text>
<text x="1866" y="585.1" font-size="24">80</text>
<text x="54" y="552.6" font-size="24" text-anchor="end">90</text>
<text x="1866" y="552.6" font-size="24">90</text>
<text x="54" y="523.5" font-size="24" text-anchor="end">100</text>
<text x="1866" y="523.5" font-size="24">100</text>
<text x="54" y="332.3" font-size="24" text-anchor="end">200</text>
<text x="1866" y="332.3" font-size="24">200</text>
<text x="54" y="220.4" font-size="24" text-anchor="end">300</text>
<text x="1866" y="220.4" font-size="24">300</text>
<text x="54" y="141.1" font-size="24" text-anchor="end">400</text>
<text x="1866" y="141.1" font-size="24">400</text>
<text x="54" y="79.5" font-size="24" text-anchor="end">500</text>
<text x="1866" y="79.5" font-size="24">500</text>
<text x="127.5" y="996" font-size="24" text-anchor="middle">2006</text>
<text x="291.5" y="996" font-size="24" text-anchor="middle">2008</text>
<text x="455.5" y="996" font-size="24" text-anchor="middle">2010</text>
<text x="619.5" y="996" font-size="24" text-anchor="middle">2012</text>
<text x="783.5" y="996" font-size="24" text-anchor="middle">2014</text>
<text x="947.5" y="996" font-size="24" text-anchor="middle">2016</text>
<text x="1111.5" y="996" font-size="24" text-anchor="middle">2018</text>
<text x="1275.5" y="996" font-size="24" text-anchor="middle">2020</text>
<text x="1439.5" y="996" font-size="24" text-anchor="middle">2022</text>
<text x="1603.5" y="996" font-size="24" text-anchor="middle">2024</text>
<text x="1767.5" y="996" font-size="24" text-anchor="middle">2026</text>
<rect x="77" y="51.5" width="1242" height="48" fill="#2e7d72"/>
<text x="697.7" y="85.1" font-size="30.88" fill="#fff" text-anchor="middle">S&amp;P 500 INDEPENDENT POWER: INDEX, FORWARD EARNINGS &amp; VALUATION</text>
<rect x="78.5" y="104" width="780" height="89.5" fill="#fff" stroke="#000" stroke-width="3" stroke-linejoin="round"/>
<path d="M86 120.5H140" stroke="#ff0000" stroke-width="2.5"/>
<path d="M86 147.5H140" stroke="#0000ff" stroke-width="2.5"/>
<rect x="86" y="166" width="54" height="17.5" fill="#d9d9d9"/>
<text x="148" y="128" font-size="24.2">Independent Power Producers Price Index (Apr 10 = 116.2)</text>
<text x="148" y="155" font-size="24.2">Blue Angels Implied Price Index* (Apr 10)</text>
<text x="148" y="181.5" font-size="24.2">Recession</text>
<rect x="1704.5" y="295.8" width="61" height="32" fill="#fff"/><rect x="1698.6" y="375" width="58" height="32.5" fill="#fff"/><rect x="1700.6" y="480" width="58" height="32.5" fill="#fff"/><text x="1713.2" y="319.8" font-size="24" fill="#0000ff">x20</text><text x="1707.4" y="399" font-size="24" fill="#0000ff">x15</text><text x="1709.2" y="504" font-size="24" fill="#0000ff">x10</text>
<text x="75" y="1035.3" font-size="24">Source: LSEG Datastream and © Yardeni Research. Standard &amp; Poor's.</text>
<text x="75" y="1068" font-size="24">* Implied price index calculated using forward earnings times forward P/Es.</text>
</svg></body></html>
